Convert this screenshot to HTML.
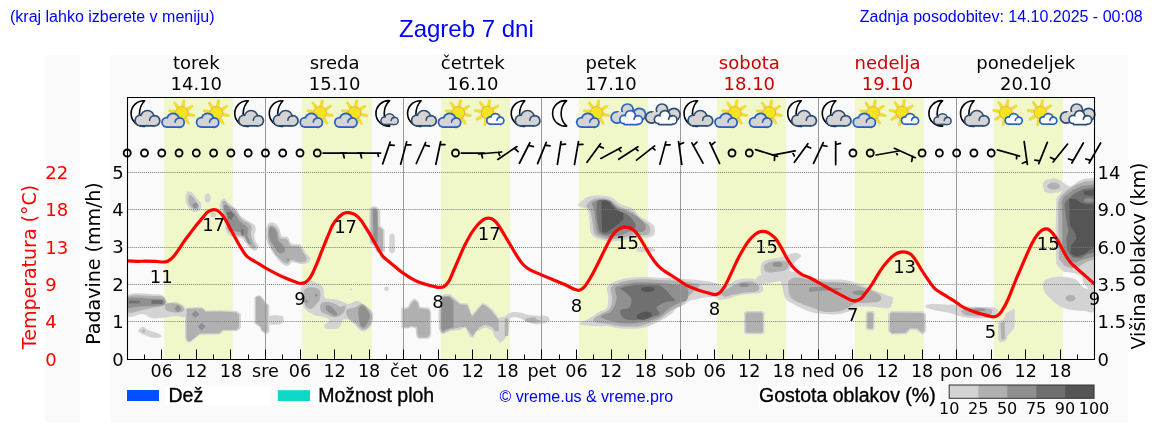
<!DOCTYPE html>
<html><head><meta charset="utf-8"><title>Zagreb 7 dni</title>
<style>
html,body{margin:0;padding:0;background:#fff;}
body{width:1152px;height:443px;overflow:hidden;}
svg{display:block;}
text{font-family:"DejaVu Sans",sans-serif;}
svg{-webkit-font-smoothing:antialiased;will-change:transform;}
.hd{font-family:"Liberation Sans",Arial,sans-serif;fill:#0000ff;}
.ls{font-family:"Liberation Sans",Arial,sans-serif;stroke:#000;stroke-width:0.35px;}
</style></head><body>
<svg width="1152" height="443" viewBox="0 0 1152 443">
<rect x="45" y="55" width="35" height="367.5" fill="#fafafa"/>
<rect x="110" y="55" width="1018" height="367.5" fill="#fafafa"/>
<rect x="127.5" y="97.5" width="967" height="262.0" fill="#fafafb"/>
<rect x="164.2" y="97.5" width="68.6" height="262.0" fill="#f0f7c9"/>
<rect x="302.2" y="97.5" width="69.6" height="262.0" fill="#f0f7c9"/>
<rect x="440.9" y="97.5" width="68.9" height="262.0" fill="#f0f7c9"/>
<rect x="578.9" y="97.5" width="68.9" height="262.0" fill="#f0f7c9"/>
<rect x="716.9" y="97.5" width="68.9" height="262.0" fill="#f0f7c9"/>
<rect x="854.9" y="97.5" width="68.9" height="262.0" fill="#f0f7c9"/>
<rect x="993.8" y="97.5" width="69.1" height="262.0" fill="#f0f7c9"/>
<defs><clipPath id="pc"><rect x="127.5" y="97.5" width="967" height="262.0"/></clipPath></defs>
<g clip-path="url(#pc)">
<ellipse cx="213.3" cy="214.8" rx="3.2" ry="2.6" fill="#d3d3d3"/>
<path d="M757.0,277.0 C758.7,275.2 764.8,274.5 770.0,273.5 C775.2,272.5 783.5,271.0 788.0,271.0 C792.5,271.0 796.7,272.2 797.0,273.5 C797.3,274.8 793.7,277.6 790.0,279.0 C786.3,280.4 780.0,281.2 775.0,282.0 C770.0,282.8 763.0,284.8 760.0,284.0 C757.0,283.2 755.3,278.8 757.0,277.0Z" fill="#d3d3d3"/>
<path d="M690.0,282.0 C692.5,279.1 700.7,281.3 705.0,281.5 C709.3,281.7 713.2,282.1 716.0,283.0 C718.8,283.9 722.0,284.8 722.0,287.0 C722.0,289.2 718.8,294.2 716.0,296.0 C713.2,297.8 709.3,297.0 705.0,297.5 C700.7,298.0 692.5,301.6 690.0,299.0 C687.5,296.4 687.5,284.9 690.0,282.0Z" fill="#d3d3d3"/>
<path d="M127.5,295.2 C132.1,291.5 149.0,294.2 154.8,294.2 C160.6,294.2 160.4,294.4 162.2,295.2 C164.0,296.0 164.6,298.0 165.6,299.2 C166.6,300.4 166.5,302.2 168.3,302.6 C170.1,303.1 174.1,301.6 176.4,301.9 C178.7,302.2 180.5,303.6 181.9,304.6 C183.3,305.6 184.5,306.0 185.0,308.0 C185.5,310.0 186.4,315.4 185.0,316.8 C183.6,318.2 179.6,316.0 176.4,316.1 C173.2,316.2 169.7,317.1 165.6,317.5 C161.5,317.9 155.9,318.8 152.1,318.2 C148.3,317.6 146.7,314.5 142.6,314.1 C138.5,313.8 130.0,319.2 127.5,316.1 C125.0,313.0 123.0,298.9 127.5,295.2Z" fill="#d3d3d3"/>
<path d="M127.5,296.5 C132.1,293.8 149.0,295.9 155.0,296.0 C161.0,296.1 161.8,296.2 163.5,297.0 C165.2,297.8 165.4,299.1 165.5,300.5 C165.6,301.9 166.6,304.1 164.3,305.3 C162.1,306.6 155.6,307.2 152.0,308.0 C148.4,308.8 146.7,309.3 142.6,310.0 C138.5,310.7 130.0,314.4 127.5,312.1 C125.0,309.9 122.9,299.2 127.5,296.5Z" fill="#b0b0b0"/>
<path d="M166.0,304.0 C167.7,302.9 173.3,303.1 176.0,303.5 C178.7,303.9 180.7,305.4 182.0,306.5 C183.3,307.6 184.3,309.0 184.0,310.0 C183.7,311.0 182.0,312.2 180.0,312.5 C178.0,312.8 174.3,312.4 172.0,312.0 C169.7,311.6 167.0,311.3 166.0,310.0 C165.0,308.7 164.3,305.1 166.0,304.0Z" fill="#b0b0b0"/>
<path d="M127.5,298.0 C131.2,296.5 144.1,298.2 150.0,298.5 C155.9,298.8 160.7,298.5 163.0,299.5 C165.3,300.5 165.8,303.4 164.0,304.5 C162.2,305.6 156.0,305.7 152.0,306.0 C148.0,306.3 144.1,306.2 140.0,306.5 C135.9,306.8 129.6,308.9 127.5,307.5 C125.4,306.1 123.8,299.5 127.5,298.0Z" fill="#909090"/>
<polygon points="129.0,300.6 140.0,300.8 140.0,303.3 129.0,303.5" fill="#707070"/>
<polygon points="151.4,300.0 162.5,300.2 162.9,304.0 151.4,304.0" fill="#707070"/>
<polygon points="177.8,304.5 181.5,308.7 177.8,312.5 174.5,308.7" fill="#909090"/>
<path d="M138.0,331.0 C138.2,329.8 141.3,327.0 143.0,326.8 C144.7,326.6 145.8,329.1 148.0,330.0 C150.2,330.9 153.8,331.6 156.0,332.5 C158.2,333.4 161.2,334.6 161.5,335.5 C161.8,336.4 159.9,337.8 158.0,338.0 C156.1,338.2 152.7,337.7 150.0,337.0 C147.3,336.3 144.0,335.0 142.0,334.0 C140.0,333.0 137.8,332.2 138.0,331.0Z" fill="#d3d3d3"/>
<ellipse cx="143.5" cy="331" rx="1.6" ry="1.6" fill="#b0b0b0"/>
<polygon points="185.0,308.7 187.5,307.4 202.4,307.2 206.1,310.5 221.0,310.2 237.1,311.1 240.9,314.3 240.9,327.9 237.1,331.0 223.5,331.0 219.8,334.5 199.9,334.8 189.9,342.8 186.2,341.6 185.0,337.2 185.0,319.8" fill="#d3d3d3"/>
<polygon points="186.8,308.7 202.4,308.4 205.5,311.8 221.0,311.4 236.5,312.4 239.0,314.9 239.0,327.3 236.5,329.8 222.9,330.0 219.1,333.3 199.9,333.5 189.9,341.6 187.2,340.3 186.5,337.2 186.5,313.6" fill="#b0b0b0"/>
<polygon points="195.5,310.5 199.5,314.3 195.5,318.0 191.5,314.3" fill="#909090"/>
<polygon points="201.7,322.7 205.7,326.7 201.7,330.5 197.7,326.7" fill="#909090"/>
<polygon points="254.5,296.9 259.5,295.0 262.6,297.5 265.7,302.5 269.4,304.9 269.4,316.1 275.0,315.0 283.0,316.0 284.0,321.0 280.0,324.8 269.4,324.8 269.4,332.3 265.7,334.5 261.4,331.0 259.5,327.3 254.5,323.6" fill="#d3d3d3"/>
<polygon points="255.8,296.9 260.1,296.2 262.0,298.7 265.1,303.1 267.6,305.6 267.6,331.0 265.7,332.9 262.0,330.4 260.7,326.7 255.8,323.0" fill="#b0b0b0"/>
<path d="M187.6,191.8 C188.7,191.1 190.3,191.5 191.9,192.6 C193.5,193.7 195.4,196.7 196.9,198.5 C198.4,200.3 200.6,201.8 201.2,203.6 C201.8,205.4 201.2,208.2 200.3,209.6 C199.5,211.0 197.7,212.0 196.1,212.1 C194.5,212.2 192.6,211.7 191.0,210.4 C189.4,209.1 187.7,206.8 186.8,204.5 C185.9,202.2 185.3,199.0 185.4,196.9 C185.5,194.8 186.5,192.5 187.6,191.8Z" fill="#d3d3d3"/>
<path d="M189.3,195.2 C190.0,194.4 191.3,195.5 192.7,196.9 C194.1,198.3 196.8,201.8 197.8,203.6 C198.8,205.4 199.0,206.9 198.6,207.9 C198.2,208.9 196.5,209.8 195.2,209.6 C193.9,209.4 192.1,208.3 191.0,207.0 C189.9,205.7 188.8,203.9 188.5,201.9 C188.2,199.9 188.6,196.0 189.3,195.2Z" fill="#b0b0b0"/>
<ellipse cx="195.2" cy="205.5" rx="2.5" ry="2.5" fill="#909090"/>
<ellipse cx="207.5" cy="198" rx="3" ry="4.6" fill="#d3d3d3"/>
<path d="M221.1,200.4 C221.9,199.2 223.5,198.2 224.5,198.4 C225.5,198.6 225.8,200.6 227.2,201.8 C228.5,203.0 231.0,204.5 232.6,205.8 C234.2,207.2 235.2,208.1 236.7,209.9 C238.2,211.7 239.4,214.8 241.4,216.7 C243.4,218.6 246.8,220.1 248.9,221.4 C251.1,222.8 253.2,223.6 254.3,224.8 C255.4,226.1 255.7,227.1 255.7,228.9 C255.7,230.7 254.3,233.7 254.3,235.7 C254.3,237.7 255.0,239.3 255.7,241.1 C256.4,242.9 258.4,244.9 258.4,246.5 C258.4,248.1 256.8,250.2 255.7,250.6 C254.6,251.0 253.2,250.3 251.6,249.2 C250.0,248.1 247.8,245.6 246.2,243.8 C244.6,242.0 243.9,239.5 242.1,238.4 C240.3,237.3 237.3,237.4 235.3,237.0 C233.3,236.6 231.5,236.8 229.9,235.7 C228.3,234.6 226.7,232.5 225.8,230.2 C224.9,227.9 225.3,225.0 224.5,222.1 C223.7,219.2 221.9,215.3 221.1,212.6 C220.3,209.9 219.7,207.8 219.7,205.8 C219.7,203.8 220.3,201.6 221.1,200.4Z" fill="#d3d3d3"/>
<path d="M222.5,202.5 C222.8,200.8 224.2,200.7 225.2,201.1 C226.2,201.5 227.1,203.9 228.6,205.2 C230.1,206.4 232.4,207.1 234.0,208.6 C235.6,210.1 236.7,212.2 238.0,214.0 C239.3,215.8 240.3,217.8 242.1,219.4 C243.9,221.0 247.3,222.2 248.9,223.5 C250.5,224.8 251.3,225.7 251.6,227.5 C251.9,229.3 250.7,232.0 250.9,234.3 C251.1,236.6 252.1,239.1 252.9,241.1 C253.7,243.1 255.7,245.3 255.7,246.5 C255.7,247.7 254.3,249.1 252.9,248.5 C251.5,247.9 249.1,245.0 247.5,243.1 C245.9,241.2 245.3,238.3 243.5,237.0 C241.7,235.7 238.7,235.7 236.7,235.0 C234.7,234.3 232.9,233.9 231.3,232.9 C229.7,231.9 228.1,230.9 227.2,228.9 C226.3,226.9 226.5,223.6 225.8,220.7 C225.1,217.8 223.7,214.3 223.1,211.3 C222.5,208.3 222.2,204.2 222.5,202.5Z" fill="#b0b0b0"/>
<path d="M223.8,205.8 C224.2,205.0 225.9,204.5 227.2,205.2 C228.4,205.9 230.0,208.4 231.3,209.9 C232.7,211.4 234.0,212.2 235.3,214.0 C236.7,215.8 237.6,218.7 239.4,220.7 C241.2,222.7 244.7,224.6 246.2,226.2 C247.7,227.8 248.0,228.6 248.2,230.2 C248.4,231.8 247.2,233.9 247.5,235.7 C247.8,237.5 249.6,239.6 250.2,241.1 C250.8,242.6 251.3,244.3 250.9,244.5 C250.5,244.7 248.7,244.1 247.5,242.4 C246.3,240.7 245.3,236.1 243.5,234.3 C241.7,232.5 239.0,232.4 236.7,231.6 C234.4,230.8 231.4,230.7 229.9,229.6 C228.4,228.5 228.5,227.2 227.9,224.8 C227.3,222.4 227.1,217.8 226.5,215.3 C225.9,212.8 224.9,211.5 224.5,209.9 C224.1,208.3 223.4,206.6 223.8,205.8Z" fill="#909090"/>
<polygon points="226.5,212.2 231.3,211.5 234.2,215.3 231.3,219.8 228.3,218.5" fill="#707070"/>
<polygon points="241.4,229.0 243.5,229.5 243.5,235.7 241.4,235.0" fill="#707070"/>
<path d="M267.0,225.6 C267.8,223.8 269.2,222.8 270.7,222.5 C272.1,222.2 274.2,222.7 275.7,223.7 C277.1,224.7 278.4,226.6 279.4,228.7 C280.4,230.8 280.4,234.6 281.9,236.1 C283.3,237.6 286.5,236.2 288.1,237.4 C289.8,238.7 289.7,242.4 291.8,243.6 C293.9,244.8 298.2,243.4 300.5,244.8 C302.8,246.2 303.9,250.0 305.5,252.3 C307.1,254.6 310.0,256.8 310.4,258.5 C310.8,260.2 309.4,261.9 308.0,262.8 C306.6,263.7 304.0,264.1 301.8,264.1 C299.6,264.1 296.6,263.1 294.9,262.8 C293.2,262.5 292.9,261.7 291.8,262.2 C290.7,262.7 289.5,265.5 288.1,265.9 C286.8,266.3 285.4,265.7 283.7,264.7 C282.0,263.7 280.0,261.8 278.1,259.7 C276.2,257.6 274.5,255.2 272.6,252.3 C270.8,249.4 268.1,245.4 267.0,242.3 C265.9,239.2 265.7,236.4 265.7,233.6 C265.7,230.8 266.2,227.4 267.0,225.6Z" fill="#d3d3d3"/>
<path d="M268.8,226.8 C269.4,225.4 270.3,224.9 271.3,224.9 C272.3,224.9 273.9,225.8 275.0,226.8 C276.1,227.8 277.3,229.2 278.1,231.1 C278.9,233.0 278.6,236.7 280.0,238.0 C281.4,239.3 285.0,238.0 286.8,239.2 C288.6,240.4 288.5,244.2 290.6,245.4 C292.7,246.7 297.1,245.4 299.3,246.7 C301.5,247.9 302.4,250.9 303.6,252.9 C304.8,254.9 306.5,257.1 306.7,258.5 C306.9,259.9 306.1,261.0 304.9,261.6 C303.7,262.2 301.2,262.4 299.3,262.2 C297.4,262.0 295.1,260.6 293.7,260.3 C292.2,260.0 291.5,259.8 290.6,260.3 C289.7,260.8 289.1,263.0 288.1,263.4 C287.1,263.8 285.8,263.6 284.4,262.8 C282.9,262.0 281.2,260.2 279.4,258.5 C277.6,256.8 275.6,255.0 273.8,252.3 C272.0,249.6 269.8,245.4 268.8,242.3 C267.8,239.2 267.6,236.2 267.6,233.6 C267.6,231.0 268.2,228.2 268.8,226.8Z" fill="#b0b0b0"/>
<path d="M269.5,228.0 C270.1,226.1 272.0,226.7 273.2,227.4 C274.4,228.1 276.1,230.3 276.9,232.4 C277.7,234.5 277.0,237.5 278.1,239.8 C279.2,242.1 282.6,244.2 283.7,246.1 C284.8,248.0 285.4,249.8 284.9,251.0 C284.4,252.2 281.9,253.5 280.6,253.5 C279.3,253.5 278.0,252.2 276.9,251.0 C275.8,249.8 275.0,248.2 273.8,246.1 C272.6,244.0 270.2,241.6 269.5,238.6 C268.8,235.6 268.9,229.9 269.5,228.0Z" fill="#909090"/>
<ellipse cx="288.1" cy="259.7" rx="1.2" ry="1.2" fill="#909090"/>
<polygon points="369.5,208.1 373.6,206.1 377.6,207.5 380.3,210.8 380.3,225.7 384.4,229.8 385.1,251.5 381.7,253.5 376.3,252.2 374.2,246.1 369.5,243.4 369.2,220.3" fill="#d3d3d3"/>
<polygon points="370.8,209.5 374.2,207.5 377.6,209.5 378.3,226.4 383.0,229.8 383.0,250.8 380.3,252.2 376.9,250.8 375.6,244.7 370.8,242.0 370.6,220.3" fill="#b0b0b0"/>
<polygon points="372.9,209.5 376.3,208.8 377.6,212.2 377.6,242.0 375.6,243.4 373.6,240.7 372.9,220.3" fill="#909090"/>
<polygon points="389.5,235.0 392.0,233.2 394.6,235.0 395.0,251.5 392.0,253.5 389.1,251.5" fill="#d3d3d3"/>
<path d="M301.5,287.2 C303.1,285.1 307.7,281.8 310.3,281.1 C312.9,280.4 315.0,282.0 317.1,283.1 C319.2,284.2 321.9,285.4 323.2,287.9 C324.5,290.4 323.0,296.1 325.2,298.0 C327.4,299.9 333.1,298.7 336.1,299.4 C339.2,300.1 341.5,301.3 343.5,302.1 C345.5,302.9 346.2,304.3 348.3,304.1 C350.4,303.9 354.4,301.0 356.4,300.7 C358.4,300.4 358.9,301.2 360.5,302.1 C362.1,303.0 364.1,304.9 365.9,306.2 C367.7,307.5 370.1,308.6 371.3,310.2 C372.5,311.8 373.3,313.2 373.3,315.7 C373.3,318.2 372.5,322.6 371.3,325.1 C370.1,327.6 367.7,329.7 365.9,330.6 C364.1,331.5 362.5,331.7 360.5,330.6 C358.5,329.5 355.7,325.6 353.7,323.8 C351.7,322.0 350.1,320.4 348.3,319.7 C346.5,319.0 343.9,319.0 342.8,319.7 C341.7,320.4 342.4,322.3 341.5,323.8 C340.6,325.3 340.0,327.7 337.4,328.5 C334.8,329.3 328.0,329.1 325.9,328.5 C323.8,327.9 324.0,326.6 324.6,325.1 C325.2,323.6 329.5,321.1 329.3,319.7 C329.1,318.3 325.4,317.7 323.2,317.0 C321.0,316.3 318.2,316.1 316.4,315.7 C314.6,315.2 314.3,315.4 312.4,314.3 C310.5,313.2 306.6,310.9 304.9,308.9 C303.2,306.9 302.9,304.6 302.2,302.1 C301.5,299.6 300.9,296.5 300.8,294.0 C300.7,291.5 299.9,289.3 301.5,287.2Z" fill="#d3d3d3"/>
<path d="M304.2,289.9 C305.3,288.8 308.0,287.4 310.3,287.2 C312.6,287.0 316.1,287.5 317.8,288.6 C319.5,289.7 320.3,292.0 320.5,294.0 C320.7,296.0 320.0,298.8 319.1,300.7 C318.2,302.6 316.5,304.1 315.1,305.5 C313.8,306.9 312.5,308.7 311.0,308.9 C309.5,309.1 307.5,308.2 306.3,306.8 C305.1,305.4 304.1,302.8 303.6,300.7 C303.2,298.6 303.5,295.8 303.6,294.0 C303.7,292.2 303.1,291.0 304.2,289.9Z" fill="#b0b0b0"/>
<path d="M320.5,304.8 C321.2,303.2 322.8,302.3 325.2,302.1 C327.6,301.9 332.2,302.7 334.7,303.5 C337.2,304.3 338.3,306.5 340.1,306.8 C341.9,307.1 344.9,304.7 345.6,305.5 C346.3,306.3 345.1,309.9 344.2,311.6 C343.3,313.3 341.9,314.8 340.1,315.7 C338.3,316.6 335.6,317.2 333.4,317.0 C331.1,316.8 328.6,315.2 326.6,314.3 C324.6,313.4 322.2,313.2 321.2,311.6 C320.2,310.0 319.8,306.4 320.5,304.8Z" fill="#b0b0b0"/>
<path d="M346.9,309.6 C348.2,308.2 352.5,308.4 355.0,307.5 C357.5,306.6 359.5,303.9 361.8,304.1 C364.1,304.3 366.9,307.0 368.6,308.9 C370.3,310.8 371.7,313.1 372.0,315.7 C372.3,318.3 371.7,322.2 370.6,324.5 C369.5,326.8 366.9,328.5 365.2,329.2 C363.5,329.9 362.0,329.4 360.5,328.5 C359.0,327.6 358.0,325.2 356.4,323.8 C354.8,322.4 352.6,321.8 351.0,320.4 C349.4,319.0 347.6,317.5 346.9,315.7 C346.2,313.9 345.5,311.0 346.9,309.6Z" fill="#b0b0b0"/>
<path d="M325.9,306.2 C326.3,305.4 327.8,304.8 329.3,305.5 C330.8,306.2 333.4,308.8 334.7,310.2 C336.0,311.6 337.2,312.7 337.4,313.6 C337.6,314.5 337.0,315.6 336.1,315.7 C335.2,315.8 333.6,315.2 332.0,314.3 C330.4,313.4 327.6,311.6 326.6,310.2 C325.6,308.8 325.4,307.0 325.9,306.2Z" fill="#909090"/>
<path d="M359.1,307.5 C359.9,306.3 361.7,304.9 363.2,305.5 C364.7,306.1 366.8,309.2 367.9,310.9 C369.0,312.6 369.9,313.8 369.9,315.7 C369.9,317.6 368.8,320.5 367.9,322.4 C367.0,324.3 365.6,326.5 364.5,327.2 C363.4,327.9 362.0,327.8 361.1,326.5 C360.2,325.2 359.6,322.0 359.1,319.7 C358.7,317.4 358.4,314.9 358.4,312.9 C358.4,310.9 358.3,308.7 359.1,307.5Z" fill="#909090"/>
<ellipse cx="316.4" cy="295.3" rx="1.2" ry="1.5" fill="#909090"/>
<ellipse cx="306.3" cy="301.4" rx="2" ry="1.2" fill="#909090"/>
<ellipse cx="386.5" cy="288.8" rx="2.3" ry="2.3" fill="#d3d3d3"/>
<ellipse cx="351" cy="289.5" rx="1" ry="1" fill="#d3d3d3"/>
<polygon points="401.0,308.3 407.5,307.0 410.9,300.9 414.2,298.2 418.3,300.9 420.3,307.0 429.1,307.6 431.2,311.7 431.2,336.1 428.5,338.8 418.3,338.8 416.3,336.1 415.6,328.6 411.5,327.3 408.2,328.6 401.4,328.6" fill="#d3d3d3"/>
<polygon points="403.4,309.7 408.8,308.3 412.2,302.2 414.9,300.2 417.6,302.9 419.0,308.3 428.5,309.4 429.8,312.4 429.8,334.7 427.1,337.4 419.0,337.4 417.6,334.7 417.0,327.3 411.5,326.0 408.2,327.3 403.4,327.3" fill="#b0b0b0"/>
<polygon points="438.6,309.7 441.3,296.1 444.7,294.1 450.1,294.1 454.9,298.2 460.3,302.9 468.1,303.6 471.5,315.1 482.4,302.9 486.0,304.0 494.0,311.0 498.6,318.0 504.7,316.5 509.0,313.0 514.0,312.0 521.0,312.4 528.0,315.0 536.0,315.5 544.0,316.5 549.4,318.5 549.4,321.0 544.0,323.5 536.0,324.5 528.0,322.5 521.0,318.5 514.2,317.1 510.0,318.0 508.8,331.4 504.7,339.5 500.0,342.9 495.0,337.0 492.0,330.0 485.7,327.3 476.3,331.4 473.6,338.1 469.5,336.8 465.4,327.3 460.0,330.0 449.4,331.3 444.0,334.0 441.3,334.0 438.6,328.6" fill="#d3d3d3"/>
<polygon points="440.5,310.0 442.8,297.5 445.5,296.0 449.6,296.0 454.0,299.6 459.6,304.3 467.0,305.0 472.2,316.5 482.4,304.3 488.0,307.5 494.0,314.0 498.6,319.8 498.6,331.4 495.0,331.0 492.5,327.3 485.0,324.5 480.0,327.0 474.9,332.7 472.2,336.1 468.0,330.0 466.0,327.0 460.0,327.3 449.4,329.8 444.0,332.5 441.5,332.5 440.3,328.5" fill="#b0b0b0"/>
<polygon points="442.0,296.8 449.4,296.8 453.5,301.5 453.5,327.3 448.1,328.6 442.7,331.3 441.3,328.6 441.3,301.5" fill="#909090"/>
<polygon points="504.7,318.5 508.1,318.5 508.1,336.1 504.7,336.1" fill="#b0b0b0"/>
<ellipse cx="534" cy="320" rx="9" ry="2.6" fill="#b0b0b0"/>
<path d="M578.1,204.6 C579.1,202.9 584.3,198.4 587.4,196.9 C590.5,195.4 593.5,195.5 596.6,195.4 C599.7,195.3 603.0,195.6 605.8,196.1 C608.6,196.6 611.2,197.1 613.5,198.4 C615.8,199.7 617.6,202.5 619.6,203.8 C621.6,205.1 623.5,205.2 625.8,206.1 C628.1,207.0 631.1,207.5 633.4,209.2 C635.7,210.9 637.3,214.2 639.6,216.1 C641.9,218.0 645.0,219.2 647.3,220.7 C649.6,222.2 652.1,223.5 653.4,225.3 C654.7,227.1 655.0,229.7 654.9,231.5 C654.8,233.3 654.1,235.1 652.6,236.1 C651.1,237.1 648.4,237.6 645.7,237.6 C643.0,237.6 638.5,236.1 636.5,236.1 C634.5,236.1 635.7,236.8 633.4,237.6 C631.1,238.4 626.5,240.0 622.7,240.7 C618.9,241.3 613.7,241.6 610.4,241.5 C607.1,241.4 605.3,240.6 602.7,239.9 C600.1,239.2 597.0,239.0 595.0,237.6 C593.0,236.2 591.3,234.1 590.4,231.5 C589.5,228.9 590.2,225.9 589.7,222.3 C589.2,218.7 588.8,212.6 587.4,210.0 C586.0,207.4 582.8,207.8 581.2,206.9 C579.7,206.0 577.1,206.3 578.1,204.6Z" fill="#d3d3d3"/>
<path d="M586.6,204.6 C587.6,203.2 590.5,200.2 593.5,199.2 C596.5,198.2 601.2,198.1 604.3,198.4 C607.4,198.7 609.6,199.5 611.9,200.8 C614.2,202.1 616.0,204.8 618.1,206.1 C620.2,207.4 621.7,207.4 624.2,208.4 C626.8,209.4 630.8,210.6 633.4,212.3 C636.0,214.0 637.3,216.5 639.6,218.4 C641.9,220.3 645.5,222.0 647.3,223.8 C649.1,225.6 650.2,227.4 650.3,229.2 C650.4,231.0 649.8,233.5 648.0,234.5 C646.2,235.5 642.0,235.3 639.6,235.3 C637.2,235.3 636.0,234.1 633.4,234.5 C630.8,234.9 628.0,236.8 624.2,237.6 C620.4,238.4 614.5,239.3 610.4,239.2 C606.3,239.1 602.3,237.9 599.6,236.9 C596.9,235.9 595.4,235.2 594.3,233.0 C593.1,230.8 593.4,227.4 592.7,223.8 C592.1,220.2 591.3,214.2 590.4,211.5 C589.5,208.8 588.0,208.8 587.4,207.7 C586.8,206.5 585.6,206.0 586.6,204.6Z" fill="#b0b0b0"/>
<path d="M592.0,203.1 C592.8,201.7 595.6,200.5 598.1,200.0 C600.6,199.5 604.2,198.8 607.3,200.0 C610.4,201.2 613.4,205.1 616.5,206.9 C619.6,208.7 622.5,209.2 625.8,210.7 C629.1,212.2 633.4,214.0 636.5,216.1 C639.6,218.2 642.7,220.9 644.2,223.0 C645.7,225.1 646.2,226.9 645.7,228.4 C645.2,229.9 643.7,231.7 641.1,232.2 C638.5,232.7 633.5,231.1 630.4,231.5 C627.3,231.9 626.0,233.6 622.7,234.5 C619.4,235.4 614.1,236.9 610.4,236.9 C606.7,236.9 602.7,235.7 600.4,234.5 C598.1,233.3 597.5,232.7 596.6,229.9 C595.7,227.1 595.5,221.2 595.0,217.6 C594.5,214.0 594.0,210.8 593.5,208.4 C593.0,206.0 591.2,204.5 592.0,203.1Z" fill="#909090"/>
<path d="M597.3,201.5 C598.3,199.3 600.5,200.0 602.7,200.0 C604.9,200.0 607.8,199.8 610.4,201.5 C613.0,203.2 615.3,207.8 618.1,210.0 C620.9,212.2 624.8,212.8 627.3,214.6 C629.8,216.4 632.0,218.6 633.4,220.7 C634.8,222.8 636.5,225.6 635.7,226.9 C634.9,228.2 631.5,227.9 628.8,228.4 C626.1,228.9 623.2,228.9 619.6,229.9 C616.0,230.9 610.5,234.1 607.3,234.5 C604.1,234.9 601.9,233.7 600.4,232.2 C598.9,230.7 598.7,228.5 598.1,225.3 C597.5,222.1 596.7,217.0 596.6,213.0 C596.5,209.0 596.3,203.7 597.3,201.5Z" fill="#707070"/>
<polygon points="601.5,201.0 606.0,200.4 609.6,202.0 612.0,206.0 617.0,210.5 623.5,213.0 623.5,219.0 619.0,223.5 612.0,228.5 606.0,232.8 602.0,232.0 601.5,213.0" fill="#555555"/>
<path d="M636.5,248.5 C637.7,247.8 642.2,247.2 645.0,247.2 C647.8,247.2 651.3,247.9 653.0,248.5 C654.7,249.1 656.2,250.4 655.0,251.0 C653.8,251.6 648.8,252.2 646.0,252.3 C643.2,252.4 639.6,252.1 638.0,251.5 C636.4,250.9 635.3,249.2 636.5,248.5Z" fill="#d3d3d3"/>
<path d="M579.5,323.2 C580.5,322.0 586.8,319.8 590.1,317.9 C593.4,316.0 596.4,313.5 599.2,311.9 C602.0,310.3 605.3,310.6 606.8,308.1 C608.3,305.6 608.3,300.1 608.3,296.7 C608.3,293.3 606.0,290.1 606.8,287.7 C607.5,285.3 609.8,283.9 612.8,282.4 C615.8,280.9 620.3,279.5 624.9,278.6 C629.5,277.7 634.3,277.2 640.1,277.1 C645.9,277.0 653.4,277.6 659.7,277.8 C666.0,278.1 671.7,278.2 677.9,278.6 C684.1,279.0 691.4,279.4 697.0,280.0 C702.6,280.6 708.3,281.3 711.7,282.2 C715.1,283.1 716.6,284.0 717.6,285.1 C718.6,286.2 720.2,287.5 718.0,289.0 C715.8,290.5 708.6,292.2 704.4,293.9 C700.2,295.6 696.0,297.2 692.6,299.0 C689.2,300.8 686.4,303.5 683.8,304.9 C681.2,306.3 679.0,306.1 677.0,307.5 C675.0,308.9 674.2,311.4 671.8,313.4 C669.4,315.4 666.2,317.4 662.7,319.4 C659.2,321.4 654.6,324.0 650.6,325.5 C646.6,327.0 643.5,328.0 638.5,328.5 C633.5,329.0 625.4,328.9 620.4,328.5 C615.4,328.1 611.8,326.6 608.3,326.2 C604.8,325.8 603.2,326.4 599.2,326.2 C595.2,326.0 587.4,325.7 584.1,325.2 C580.8,324.7 578.5,324.4 579.5,323.2Z" fill="#d3d3d3"/>
<path d="M593.2,319.4 C594.0,318.0 597.9,315.9 600.7,314.1 C603.5,312.3 607.9,311.4 609.8,308.8 C611.7,306.2 612.0,301.7 612.1,298.3 C612.2,294.9 610.1,290.7 610.6,288.4 C611.1,286.1 612.7,285.9 615.1,284.6 C617.5,283.4 620.7,281.8 624.9,280.9 C629.1,280.0 634.3,279.4 640.1,279.3 C645.9,279.2 653.4,279.8 659.7,280.1 C666.0,280.4 672.9,280.5 677.9,280.9 C682.9,281.3 686.3,281.8 690.0,282.4 C693.7,283.0 699.2,283.2 700.0,284.5 C700.8,285.8 697.0,287.9 695.0,290.0 C693.0,292.1 690.2,294.7 688.0,297.0 C685.8,299.3 683.2,302.5 682.0,304.0 C680.8,305.5 682.9,304.6 680.9,305.8 C678.9,307.0 673.6,309.1 670.3,311.1 C667.0,313.1 664.7,315.9 661.2,317.9 C657.7,319.9 652.9,321.8 649.1,323.2 C645.3,324.6 643.3,325.7 638.5,326.2 C633.7,326.7 625.4,326.6 620.4,326.2 C615.4,325.8 612.3,324.6 608.3,324.0 C604.3,323.4 598.7,323.3 596.2,322.5 C593.7,321.7 592.5,320.8 593.2,319.4Z" fill="#b0b0b0"/>
<path d="M600.7,316.4 C601.2,314.9 608.6,314.0 611.3,311.1 C613.9,308.2 616.0,302.8 616.6,299.0 C617.2,295.2 614.4,290.7 615.1,288.4 C615.9,286.1 617.7,286.4 621.1,285.4 C624.5,284.4 629.3,282.8 635.5,282.4 C641.7,282.0 651.9,282.7 658.2,283.1 C664.5,283.5 668.5,283.8 673.3,284.6 C678.1,285.4 684.7,285.2 687.0,287.7 C689.3,290.2 688.3,297.3 687.0,299.8 C685.7,302.3 682.4,301.3 679.4,302.8 C676.4,304.3 672.1,306.5 668.8,308.8 C665.5,311.1 663.2,314.4 659.7,316.4 C656.2,318.4 651.6,319.9 647.6,321.0 C643.6,322.1 640.0,322.8 635.5,323.2 C631.0,323.6 624.9,323.7 620.4,323.2 C615.9,322.7 611.6,321.3 608.3,320.2 C605.0,319.1 600.2,317.9 600.7,316.4Z" fill="#909090"/>
<path d="M620.4,310.4 C621.4,308.6 627.7,309.3 629.5,307.3 C631.3,305.3 632.0,301.1 631.0,298.3 C630.0,295.5 625.2,292.4 623.4,290.7 C621.6,289.0 618.9,289.3 620.4,288.4 C621.9,287.5 628.0,286.0 632.5,285.4 C637.0,284.8 642.8,284.5 647.6,284.6 C652.4,284.7 657.2,284.2 661.2,286.2 C665.2,288.2 669.5,294.3 671.8,296.7 C674.1,299.1 675.8,299.6 674.8,300.5 C673.8,301.4 668.8,300.9 665.8,302.0 C662.8,303.1 657.7,305.4 656.7,307.3 C655.7,309.2 660.2,311.9 659.7,313.4 C659.2,314.9 656.5,315.5 653.7,316.4 C650.9,317.3 646.6,318.1 643.1,318.7 C639.6,319.3 635.8,320.3 632.5,320.2 C629.2,320.1 625.4,319.5 623.4,317.9 C621.4,316.3 619.4,312.2 620.4,310.4Z" fill="#707070"/>
<ellipse cx="647.8" cy="289.3" rx="6.8" ry="2.6" fill="#555555"/>
<ellipse cx="644.3" cy="315.7" rx="8" ry="3.8" fill="#555555" transform="rotate(-10 644.3 315.7)"/>
<ellipse cx="542.5" cy="318.2" rx="6.5" ry="2.6" fill="#d3d3d3"/>
<path d="M714.6,294.6 C714.8,293.1 717.0,291.7 719.0,290.2 C721.0,288.7 723.4,287.5 726.4,285.8 C729.4,284.1 733.0,281.2 736.7,280.0 C740.4,278.8 745.0,278.5 748.4,278.5 C751.8,278.5 755.0,279.0 757.2,280.0 C759.4,281.0 760.6,282.7 761.6,284.4 C762.6,286.1 763.6,288.7 763.1,290.2 C762.6,291.7 761.2,292.6 758.7,293.2 C756.2,293.8 751.8,293.5 748.4,293.9 C745.0,294.3 741.8,294.5 738.1,295.4 C734.4,296.3 729.8,298.5 726.4,299.1 C723.0,299.7 719.6,299.9 717.6,299.1 C715.6,298.4 714.4,296.1 714.6,294.6Z" fill="#d3d3d3"/>
<path d="M722.0,293.2 C722.5,291.9 725.2,290.5 727.9,288.8 C730.6,287.1 734.7,284.1 738.1,282.9 C741.5,281.7 745.5,281.4 748.4,281.4 C751.3,281.4 754.0,281.8 755.8,282.9 C757.6,284.0 759.4,286.5 759.4,288.0 C759.4,289.5 758.1,291.0 755.8,291.7 C753.5,292.4 749.2,291.9 745.5,292.4 C741.8,292.9 737.1,293.9 733.7,294.6 C730.3,295.3 726.9,297.0 724.9,296.8 C722.9,296.6 721.5,294.5 722.0,293.2Z" fill="#b0b0b0"/>
<ellipse cx="744" cy="285.1" rx="5" ry="2" fill="#909090"/>
<path d="M761.3,264.2 C762.1,261.8 763.2,261.4 766.4,260.2 C769.6,259.0 776.0,258.3 780.7,257.1 C785.5,255.9 791.5,253.2 794.9,253.0 C798.3,252.8 801.0,254.6 801.0,256.1 C801.0,257.6 796.6,260.2 794.9,262.2 C793.2,264.2 792.2,266.3 790.8,268.3 C789.4,270.3 788.7,273.0 786.7,274.4 C784.7,275.8 782.0,275.7 778.6,276.4 C775.2,277.1 769.3,278.8 766.4,278.5 C763.5,278.2 762.1,276.8 761.3,274.4 C760.4,272.0 760.4,266.6 761.3,264.2Z" fill="#d3d3d3"/>
<path d="M764.4,265.2 C765.6,263.5 769.1,261.9 772.5,261.2 C775.9,260.5 782.0,260.5 784.7,261.2 C787.4,261.9 788.8,263.7 788.8,265.2 C788.8,266.7 787.4,269.1 784.7,270.3 C782.0,271.5 775.7,272.2 772.5,272.4 C769.3,272.6 766.8,272.5 765.4,271.3 C764.0,270.1 763.2,266.9 764.4,265.2Z" fill="#b0b0b0"/>
<ellipse cx="777.6" cy="264.6" rx="5" ry="2.5" fill="#909090"/>
<polygon points="744.1,312.5 745.6,311.0 762.9,311.0 764.4,312.5 764.4,332.8 762.9,334.3 745.6,334.3 744.1,332.8" fill="#d3d3d3"/>
<polygon points="745.6,314.0 747.0,312.5 761.5,312.5 762.9,314.0 762.9,331.3 761.5,332.8 747.0,332.8 745.6,331.3" fill="#b0b0b0"/>
<path d="M780.7,277.4 C781.4,275.0 783.7,275.2 786.7,274.4 C789.7,273.6 794.8,272.0 798.9,272.4 C803.0,272.8 806.8,275.8 811.1,277.0 C815.4,278.2 820.0,279.1 824.7,279.5 C829.4,279.9 834.8,279.1 839.4,279.5 C844.0,279.9 848.2,280.6 852.6,281.7 C857.0,282.8 862.1,284.7 865.8,286.2 C869.5,287.7 871.2,289.1 874.6,290.6 C878.0,292.1 883.3,293.8 886.4,295.0 C889.5,296.2 892.3,295.9 893.0,297.9 C893.7,299.8 891.9,305.0 890.8,306.7 C889.7,308.4 889.6,308.2 886.4,308.2 C883.2,308.2 876.4,306.9 871.7,306.7 C867.1,306.4 861.4,306.2 858.5,306.7 C855.6,307.2 857.3,308.4 854.1,309.6 C850.9,310.8 844.3,313.4 839.4,314.1 C834.5,314.9 829.4,314.5 824.7,314.1 C820.0,313.8 816.1,313.5 811.1,312.0 C806.1,310.5 799.1,307.1 794.9,304.9 C790.7,302.7 787.7,301.5 785.7,298.8 C783.7,296.1 783.5,292.2 782.7,288.6 C781.9,285.0 780.0,279.8 780.7,277.4Z" fill="#d3d3d3"/>
<path d="M788.8,280.5 C790.2,278.8 793.2,277.5 796.9,277.4 C800.6,277.3 806.5,279.3 811.1,280.0 C815.7,280.7 819.5,281.3 824.7,281.7 C829.9,282.1 836.9,281.9 842.3,282.5 C847.7,283.1 852.1,284.0 857.0,285.4 C861.9,286.8 867.8,288.9 871.7,290.6 C875.6,292.3 879.3,293.9 880.5,295.7 C881.7,297.5 881.5,300.4 879.0,301.6 C876.5,302.8 869.7,302.6 865.8,303.0 C861.9,303.4 859.4,302.6 855.5,303.8 C851.6,305.0 847.4,309.0 842.3,310.4 C837.2,311.8 829.6,312.3 824.7,311.9 C819.9,311.5 817.8,309.7 813.2,308.0 C808.6,306.3 800.8,303.9 796.9,301.8 C793.0,299.8 791.2,298.1 789.8,295.7 C788.4,293.3 788.6,290.1 788.4,287.6 C788.2,285.1 787.4,282.2 788.8,280.5Z" fill="#b0b0b0"/>
<path d="M810.0,287.6 C811.5,286.8 815.1,286.9 818.8,286.9 C822.5,286.9 828.1,287.2 832.0,287.6 C835.9,288.0 842.3,288.6 842.3,289.1 C842.3,289.6 835.9,290.4 832.0,290.6 C828.1,290.9 822.5,290.4 818.8,290.6 C815.1,290.8 811.5,292.5 810.0,292.0 C808.5,291.5 808.5,288.5 810.0,287.6Z" fill="#909090"/>
<ellipse cx="817" cy="289.3" rx="7" ry="2" fill="#909090"/>
<ellipse cx="859.2" cy="292.8" rx="6.6" ry="2.5" fill="#909090"/>
<polygon points="865.8,313.0 867.5,311.1 873.0,311.1 874.6,313.0 874.6,328.5 873.0,330.2 867.5,330.2 865.8,328.5" fill="#d3d3d3"/>
<polygon points="867.3,314.0 868.5,312.6 872.0,312.6 873.1,314.0 873.1,327.3 872.0,328.7 868.5,328.7 867.3,327.3" fill="#b0b0b0"/>
<polygon points="888.1,313.6 891.2,311.1 922.8,311.3 925.9,314.2 925.9,331.6 922.8,334.7 919.7,332.8 916.0,329.7 910.4,329.7 906.7,334.0 891.8,334.7 888.1,330.9" fill="#d3d3d3"/>
<polygon points="889.9,314.2 891.8,312.6 922.2,313.0 924.3,314.8 924.3,330.3 922.2,332.8 917.2,328.5 909.8,328.2 905.4,332.8 891.8,333.2 889.9,330.9" fill="#b0b0b0"/>
<path d="M925.3,306.1 C925.7,305.5 926.8,304.6 929.6,304.3 C932.4,304.0 937.9,304.1 942.0,304.3 C946.1,304.5 950.6,304.8 954.4,305.5 C958.2,306.2 963.2,306.7 965.0,308.6 C966.8,310.5 965.9,315.4 965.0,316.7 C964.1,317.9 962.0,316.7 959.4,316.1 C956.8,315.5 953.4,313.9 949.5,313.0 C945.6,312.1 939.5,311.3 935.8,310.5 C932.1,309.7 928.9,308.7 927.1,308.0 C925.4,307.3 924.9,306.7 925.3,306.1Z" fill="#d3d3d3"/>
<path d="M950.0,304.4 C952.0,303.6 953.2,305.2 957.1,305.6 C961.0,306.0 967.8,306.5 973.5,306.8 C979.2,307.1 987.2,306.9 991.1,307.3 C995.0,307.7 995.9,308.0 997.0,309.1 C998.1,310.2 998.0,312.6 997.6,313.8 C997.2,315.0 996.8,315.5 994.7,316.2 C992.7,316.9 989.2,317.6 985.3,317.9 C981.4,318.2 975.1,318.2 971.2,317.9 C967.3,317.6 964.1,316.8 961.8,316.2 C959.4,315.6 959.1,315.0 957.1,314.4 C955.1,313.8 952.0,313.2 950.0,312.6 C948.0,312.0 945.0,311.9 945.0,310.5 C945.0,309.1 948.0,305.2 950.0,304.4Z" fill="#d3d3d3"/>
<path d="M961.8,310.3 C963.6,309.4 968.8,308.1 973.5,307.9 C978.2,307.7 986.9,308.5 990.0,309.1 C993.1,309.7 992.3,310.5 992.3,311.5 C992.3,312.5 992.1,314.2 990.0,315.0 C987.9,315.8 983.1,316.1 979.4,316.2 C975.7,316.3 970.4,316.1 967.6,315.6 C964.9,315.1 963.9,314.1 962.9,313.2 C961.9,312.3 960.0,311.2 961.8,310.3Z" fill="#b0b0b0"/>
<ellipse cx="979.4" cy="309.8" rx="6" ry="1.5" fill="#909090"/>
<polygon points="998.2,322.0 1004.0,319.1 1005.2,313.8 1013.5,309.1 1014.9,310.3 1014.6,327.9 1007.6,335.5 1006.4,339.7 1001.7,342.6 998.2,340.2" fill="#d3d3d3"/>
<polygon points="1000.5,323.2 1004.6,321.4 1005.2,338.5 1002.3,339.7 1001.1,337.3" fill="#b0b0b0"/>
<polygon points="1042.7,182.9 1045.4,180.2 1053.6,178.1 1060.3,180.2 1064.4,183.6 1069.8,186.5 1073.2,184.9 1079.3,180.8 1084.7,178.8 1094.7,177.8 1094.7,290.0 1089.0,289.0 1083.0,283.0 1082.0,276.0 1073.9,273.1 1063.7,271.7 1060.3,268.4 1056.3,264.3 1055.6,230.0 1056.3,198.5 1060.3,193.7 1063.0,190.5 1058.0,192.5 1050.0,193.6 1044.0,191.5" fill="#d3d3d3"/>
<ellipse cx="1053.6" cy="186.1" rx="6.5" ry="3.5" fill="#b0b0b0"/>
<path d="M1043.1,285.7 C1043.1,283.3 1043.8,281.1 1045.8,279.6 C1047.8,278.1 1051.5,277.2 1055.3,276.9 C1059.1,276.6 1065.2,277.0 1068.8,277.6 C1072.4,278.2 1074.7,278.7 1077.0,280.3 C1079.3,281.9 1080.4,285.6 1082.4,287.1 C1084.4,288.6 1087.0,288.8 1089.1,289.1 C1091.1,289.4 1093.8,285.5 1094.7,289.1 C1095.6,292.7 1096.8,307.1 1094.7,310.7 C1092.7,314.3 1086.7,310.9 1082.4,310.7 C1078.1,310.5 1072.6,310.2 1068.8,309.4 C1065.0,308.6 1062.3,307.7 1059.4,306.0 C1056.5,304.3 1053.5,301.2 1051.2,299.2 C1048.9,297.2 1047.2,296.1 1045.8,293.8 C1044.4,291.6 1043.1,288.1 1043.1,285.7Z" fill="#d3d3d3"/>
<ellipse cx="1070.4" cy="298.2" rx="5" ry="3.2" fill="#b0b0b0"/>
<polygon points="1067.0,190.3 1075.2,184.9 1084.7,181.5 1094.7,180.8 1094.7,259.6 1087.4,261.6 1079.3,266.3 1071.2,268.4 1064.4,265.7 1059.0,258.9 1058.3,225.0 1058.3,202.5 1060.3,197.1" fill="#b0b0b0"/>
<polygon points="1063.7,197.1 1072.5,190.3 1080.6,186.3 1094.7,184.2 1094.7,256.8 1084.7,258.9 1075.2,262.3 1067.1,260.2 1062.4,252.1 1062.4,225.0 1061.7,201.2" fill="#909090"/>
<polygon points="1065.7,201.2 1073.9,193.7 1083.4,189.0 1094.7,187.6 1094.7,252.1 1087.4,254.1 1080.6,258.2 1072.5,257.5 1067.1,250.7 1066.4,238.6 1068.5,230.4 1067.1,225.0 1064.4,205.2" fill="#707070"/>
<polygon points="1069.1,199.1 1075.2,199.1 1080.6,202.5 1086.1,204.6 1094.7,203.9 1094.7,247.4 1090.1,249.4 1084.7,254.1 1076.6,256.8 1070.5,253.5 1071.2,245.3 1076.6,238.6 1075.2,233.1 1069.8,225.0" fill="#555555"/>
<path d="M1084.7,191.0 C1086.3,190.2 1093.0,189.8 1094.7,190.5 C1096.4,191.2 1096.3,194.8 1094.7,195.5 C1093.1,196.2 1086.7,195.8 1085.0,195.0 C1083.3,194.2 1083.1,191.8 1084.7,191.0Z" fill="#555555"/>
<ellipse cx="1089" cy="200.2" rx="5" ry="2.2" fill="#909090"/>
</g>
<line x1="127.5" y1="321.5" x2="1094.5" y2="321.5" stroke="#777" stroke-width="1" stroke-dasharray="1 1.05"/>
<line x1="127.5" y1="284.5" x2="1094.5" y2="284.5" stroke="#777" stroke-width="1" stroke-dasharray="1 1.05"/>
<line x1="127.5" y1="247.5" x2="1094.5" y2="247.5" stroke="#777" stroke-width="1" stroke-dasharray="1 1.05"/>
<line x1="127.5" y1="209.5" x2="1094.5" y2="209.5" stroke="#777" stroke-width="1" stroke-dasharray="1 1.05"/>
<line x1="127.5" y1="172.5" x2="1094.5" y2="172.5" stroke="#777" stroke-width="1" stroke-dasharray="1 1.05"/>
<line x1="265.5" y1="97.5" x2="265.5" y2="359.5" stroke="#999" stroke-width="1"/>
<line x1="403.5" y1="97.5" x2="403.5" y2="359.5" stroke="#999" stroke-width="1"/>
<line x1="541.5" y1="97.5" x2="541.5" y2="359.5" stroke="#999" stroke-width="1"/>
<line x1="680.5" y1="97.5" x2="680.5" y2="359.5" stroke="#999" stroke-width="1"/>
<line x1="818.5" y1="97.5" x2="818.5" y2="359.5" stroke="#999" stroke-width="1"/>
<line x1="956.5" y1="97.5" x2="956.5" y2="359.5" stroke="#999" stroke-width="1"/>
<path d="M127.4,260.8 C129.0,260.9 134.2,261.2 137.2,261.3 C140.2,261.4 142.2,261.2 145.3,261.2 C148.4,261.2 152.6,261.3 155.5,261.4 C158.4,261.5 160.6,262.0 162.6,262.0 C164.6,262.0 166.0,262.0 167.7,261.2 C169.4,260.4 171.1,259.0 172.8,257.3 C174.5,255.6 176.0,253.4 177.8,250.8 C179.7,248.2 181.9,244.6 183.9,241.7 C185.9,238.8 188.0,236.2 190.0,233.5 C192.0,230.8 194.1,227.9 196.1,225.4 C198.1,222.9 200.3,220.5 202.2,218.3 C204.1,216.1 205.6,213.6 207.3,212.2 C209.0,210.8 210.7,210.1 212.4,209.8 C214.1,209.5 216.0,209.9 217.5,210.6 C219.0,211.3 220.2,212.8 221.5,214.2 C222.8,215.6 223.6,216.6 225.2,219.3 C226.8,222.0 229.3,226.8 231.3,230.5 C233.3,234.2 235.4,238.1 237.4,241.7 C239.4,245.2 241.8,249.3 243.5,251.8 C245.2,254.3 245.5,255.2 247.5,256.9 C249.5,258.6 252.6,260.1 255.7,262.0 C258.8,263.9 262.4,266.2 265.8,268.1 C269.2,270.0 272.6,271.9 276.0,273.6 C279.4,275.3 282.7,276.9 286.1,278.3 C289.5,279.8 293.9,281.5 296.3,282.3 C298.7,283.1 298.9,283.3 300.4,283.3 C301.9,283.3 303.7,283.3 305.4,282.3 C307.1,281.3 308.7,280.1 310.5,277.2 C312.3,274.3 314.7,268.7 316.3,265.0 C317.9,261.3 319.0,258.3 320.3,254.9 C321.6,251.5 323.0,248.1 324.4,244.7 C325.8,241.3 327.1,237.8 328.5,234.6 C329.9,231.4 331.0,228.1 332.5,225.4 C334.0,222.7 335.9,220.2 337.6,218.3 C339.3,216.4 341.2,214.8 342.7,213.8 C344.2,212.9 345.2,212.7 346.7,212.6 C348.2,212.5 350.1,212.6 351.8,213.2 C353.5,213.8 355.4,214.7 356.9,215.9 C358.4,217.1 359.6,218.6 361.0,220.3 C362.4,222.1 363.5,224.0 365.0,226.4 C366.5,228.8 368.4,231.7 370.1,234.6 C371.8,237.5 373.7,241.0 375.2,243.7 C376.7,246.4 377.9,248.6 379.3,250.8 C380.7,253.0 381.6,255.0 383.3,256.9 C385.0,258.8 387.4,260.3 389.4,262.0 C391.4,263.7 393.2,265.2 395.5,267.1 C397.8,269.0 399.8,270.9 403.1,273.1 C406.4,275.4 411.6,278.7 415.3,280.6 C419.0,282.5 421.8,283.2 425.5,284.3 C429.2,285.4 434.6,286.9 437.7,287.3 C440.8,287.7 441.9,287.7 443.8,286.7 C445.7,285.7 447.2,284.0 448.9,281.2 C450.6,278.4 452.0,274.2 453.9,270.0 C455.8,265.8 458.1,260.0 460.0,255.8 C461.9,251.6 463.2,248.3 465.1,244.6 C467.0,240.9 469.2,236.7 471.2,233.5 C473.2,230.3 475.3,227.6 477.3,225.3 C479.3,223.0 481.5,220.8 483.4,219.6 C485.3,218.4 487.1,218.1 488.9,218.2 C490.7,218.3 492.4,218.8 494.1,220.2 C495.8,221.5 497.3,223.6 499.2,226.3 C501.1,229.0 503.3,233.1 505.3,236.5 C507.3,239.9 509.4,243.3 511.4,246.7 C513.4,250.1 515.5,253.8 517.5,256.8 C519.5,259.9 521.6,262.9 523.6,265.0 C525.6,267.1 526.7,267.9 529.7,269.6 C532.8,271.3 537.8,273.3 541.9,275.1 C546.0,276.9 550.0,278.5 554.1,280.2 C558.2,281.9 562.9,283.8 566.3,285.3 C569.7,286.8 572.2,288.5 574.4,289.3 C576.6,290.1 577.9,290.6 579.5,290.2 C581.1,289.8 582.5,288.9 584.1,287.2 C585.7,285.5 587.2,283.1 589.1,280.0 C591.0,276.9 593.2,272.8 595.2,268.9 C597.2,265.0 599.3,260.8 601.3,256.7 C603.3,252.6 605.5,248.1 607.4,244.5 C609.3,240.9 610.6,237.9 612.5,235.3 C614.4,232.8 616.7,230.5 618.6,229.2 C620.5,227.8 622.0,227.5 623.7,227.2 C625.4,226.9 627.1,227.1 628.8,227.6 C630.5,228.1 632.2,228.8 633.9,230.2 C635.6,231.6 637.0,233.6 638.9,236.3 C640.8,239.0 643.0,243.1 645.0,246.5 C647.0,249.9 649.1,253.6 651.1,256.7 C653.1,259.8 655.2,262.5 657.2,264.8 C659.2,267.1 660.9,268.5 663.3,270.3 C665.7,272.1 668.7,273.7 671.5,275.5 C674.3,277.3 677.7,279.5 680.0,281.0 C682.3,282.5 682.7,283.2 685.2,284.6 C687.8,286.0 691.9,287.8 695.3,289.1 C698.7,290.4 702.3,291.3 705.5,292.2 C708.7,293.1 712.2,294.5 714.6,294.6 C717.0,294.7 718.0,294.2 719.7,292.8 C721.4,291.4 722.9,289.2 724.8,286.1 C726.7,283.0 728.9,278.1 730.9,273.9 C732.9,269.7 735.0,264.8 737.0,260.7 C739.0,256.6 741.1,252.9 743.1,249.5 C745.1,246.1 747.2,242.9 749.2,240.3 C751.2,237.8 753.4,235.6 755.3,234.2 C757.2,232.8 758.7,232.0 760.4,231.6 C762.1,231.2 763.7,231.2 765.4,231.6 C767.1,232.0 768.7,232.9 770.5,234.2 C772.3,235.5 774.1,236.7 776.1,239.2 C778.1,241.7 780.2,245.8 782.2,249.4 C784.2,253.0 786.1,257.2 788.3,260.6 C790.5,264.0 793.0,267.3 795.4,269.7 C797.8,272.1 800.0,273.4 802.5,274.8 C805.0,276.2 807.7,276.8 810.7,278.3 C813.8,279.8 817.4,282.0 820.8,283.9 C824.2,285.8 827.6,287.7 831.0,289.6 C834.4,291.5 837.7,293.3 841.1,295.1 C844.5,296.9 848.8,299.3 851.3,300.2 C853.8,301.1 854.7,300.9 856.4,300.6 C858.1,300.3 860.0,299.4 861.5,298.2 C863.0,296.9 863.9,295.2 865.5,293.1 C867.1,291.0 869.1,288.6 871.1,285.7 C873.1,282.8 875.2,278.8 877.2,275.6 C879.2,272.4 881.3,269.1 883.3,266.4 C885.3,263.7 887.4,261.3 889.4,259.3 C891.4,257.3 893.6,255.4 895.5,254.2 C897.4,253.0 898.9,252.5 900.6,252.2 C902.3,251.9 904.0,251.9 905.7,252.2 C907.4,252.5 909.0,252.8 910.7,254.2 C912.4,255.5 913.9,257.6 915.8,260.3 C917.7,263.0 919.9,267.3 921.9,270.5 C923.9,273.7 926.0,276.7 928.0,279.6 C930.0,282.5 932.1,285.7 934.1,287.8 C936.1,289.9 937.8,290.8 940.2,292.4 C942.6,294.0 945.6,295.6 948.3,297.3 C951.0,299.0 954.0,301.0 956.5,302.6 C959.0,304.2 960.3,305.6 963.1,307.1 C965.9,308.6 969.9,310.2 973.3,311.5 C976.7,312.8 980.5,313.8 983.5,314.6 C986.5,315.5 989.4,316.3 991.6,316.6 C993.8,316.9 995.0,317.1 996.7,316.2 C998.4,315.3 999.9,313.8 1001.7,311.1 C1003.6,308.4 1005.5,305.0 1007.8,300.0 C1010.1,295.0 1013.2,286.3 1015.4,281.0 C1017.6,275.7 1019.0,272.5 1020.8,268.3 C1022.6,264.1 1024.5,259.8 1026.3,255.7 C1028.1,251.6 1029.9,247.4 1031.7,243.9 C1033.5,240.4 1035.3,237.2 1037.1,234.9 C1038.9,232.6 1040.7,230.8 1042.5,229.8 C1044.3,228.8 1046.2,228.6 1047.9,229.1 C1049.6,229.6 1051.0,231.4 1052.5,233.1 C1054.0,234.8 1055.3,236.7 1057.0,239.4 C1058.7,242.1 1060.8,246.3 1062.4,249.3 C1064.1,252.3 1065.4,255.2 1066.9,257.5 C1068.4,259.9 1069.4,261.3 1071.4,263.4 C1073.4,265.5 1076.3,267.9 1078.7,270.1 C1081.1,272.3 1083.5,274.3 1085.9,276.4 C1088.3,278.5 1091.6,281.5 1093.1,282.8 C1094.5,284.1 1094.3,284.0 1094.6,284.2" fill="none" stroke="#ff0000" stroke-width="3.2" stroke-linejoin="round" stroke-linecap="butt"/>
<text x="161.3" y="282.5" font-size="18" text-anchor="middle" fill="#000">11</text>
<text x="213.6" y="231" font-size="18" text-anchor="middle" fill="#000">17</text>
<text x="300" y="304.5" font-size="18" text-anchor="middle" fill="#000">9</text>
<text x="345.6" y="233.2" font-size="18" text-anchor="middle" fill="#000">17</text>
<text x="437.9" y="307.9" font-size="18" text-anchor="middle" fill="#000">8</text>
<text x="489.3" y="239.5" font-size="18" text-anchor="middle" fill="#000">17</text>
<text x="576.6" y="311.5" font-size="18" text-anchor="middle" fill="#000">8</text>
<text x="627.4" y="248.6" font-size="18" text-anchor="middle" fill="#000">15</text>
<text x="714.6" y="315.3" font-size="18" text-anchor="middle" fill="#000">8</text>
<text x="766.6" y="252.6" font-size="18" text-anchor="middle" fill="#000">15</text>
<text x="852.7" y="321.3" font-size="18" text-anchor="middle" fill="#000">7</text>
<text x="904.6" y="272.8" font-size="18" text-anchor="middle" fill="#000">13</text>
<text x="990.6" y="337.9" font-size="18" text-anchor="middle" fill="#000">5</text>
<text x="1048.3" y="250.4" font-size="18" text-anchor="middle" fill="#000">15</text>
<text x="1094.5" y="305.2" font-size="18" text-anchor="middle" fill="#000">9</text>
<path d="M144.68,100.70 A12.87,12.87 0 1 0 144.68,126.40 A18.48,18.48 0 0 1 144.68,100.70Z" fill="#fff" stroke="#000" stroke-width="1.6" stroke-linejoin="round"/><g fill="#2d4d73"><circle cx="140.39" cy="120.48" r="6.15"/><circle cx="147.39" cy="117.30" r="7.63"/><circle cx="154.60" cy="120.79" r="6.04"/><rect x="139.54" y="119.84" width="15.90" height="6.79" rx="1.7"/></g><g fill="#d4d4d4"><circle cx="140.39" cy="120.48" r="4.45"/><circle cx="147.39" cy="117.30" r="5.93"/><circle cx="154.60" cy="120.79" r="4.34"/><rect x="141.24" y="119.84" width="12.50" height="5.09"/></g><path d="M149.62,120.36 A4.994000000000001,4.994000000000001 0 0 1 154.16,115.82" fill="none" stroke="#2d4d73" stroke-width="1.53" stroke-linecap="round"/>
<polygon points="175.16,110.31 168.95,109.82 168.63,111.59 174.64,113.26" fill="#f2e51c" stroke="#eeaa40" stroke-width="0.35" stroke-linejoin="round"/><polygon points="179.00,106.41 174.96,101.67 173.48,102.70 176.55,108.13" fill="#f2e51c" stroke="#eeaa40" stroke-width="0.35" stroke-linejoin="round"/><polygon points="184.48,106.37 184.97,100.16 183.20,99.84 181.53,105.85" fill="#f2e51c" stroke="#eeaa40" stroke-width="0.35" stroke-linejoin="round"/><polygon points="188.48,110.45 193.35,106.57 192.37,105.06 186.84,107.93" fill="#f2e51c" stroke="#eeaa40" stroke-width="0.35" stroke-linejoin="round"/><polygon points="188.33,115.92 194.51,116.62 194.89,114.86 188.95,112.99" fill="#f2e51c" stroke="#eeaa40" stroke-width="0.35" stroke-linejoin="round"/><polygon points="184.34,119.69 188.22,124.56 189.73,123.58 186.86,118.05" fill="#f2e51c" stroke="#eeaa40" stroke-width="0.35" stroke-linejoin="round"/><polygon points="178.87,119.54 178.17,125.72 179.93,126.10 181.80,120.16" fill="#f2e51c" stroke="#eeaa40" stroke-width="0.35" stroke-linejoin="round"/><polygon points="175.10,115.55 170.23,119.43 171.21,120.94 176.74,118.07" fill="#f2e51c" stroke="#eeaa40" stroke-width="0.35" stroke-linejoin="round"/><circle cx="181.79" cy="113.00" r="6.4" fill="#f2e51c" stroke="#eeaa40" stroke-width="1"/><g fill="#2662be"><circle cx="166.78" cy="122.32" r="5.65"/><circle cx="173.05" cy="119.47" r="6.98"/><circle cx="179.51" cy="122.61" r="5.56"/><rect x="165.88" y="121.75" width="14.53" height="6.22" rx="1.8"/></g><g fill="#d4d4d4"><circle cx="166.78" cy="122.32" r="3.85"/><circle cx="173.05" cy="119.47" r="5.18"/><circle cx="179.51" cy="122.61" r="3.76"/><rect x="167.68" y="121.75" width="10.93" height="4.42"/></g><path d="M175.07,122.22 A4.455,4.455 0 0 1 179.12,118.17" fill="none" stroke="#2662be" stroke-width="1.62" stroke-linecap="round"/>
<polygon points="209.72,110.31 203.51,109.82 203.19,111.59 209.20,113.26" fill="#f2e51c" stroke="#eeaa40" stroke-width="0.35" stroke-linejoin="round"/><polygon points="213.56,106.41 209.52,101.67 208.04,102.70 211.11,108.13" fill="#f2e51c" stroke="#eeaa40" stroke-width="0.35" stroke-linejoin="round"/><polygon points="219.04,106.37 219.53,100.16 217.76,99.84 216.09,105.85" fill="#f2e51c" stroke="#eeaa40" stroke-width="0.35" stroke-linejoin="round"/><polygon points="223.04,110.45 227.91,106.57 226.93,105.06 221.40,107.93" fill="#f2e51c" stroke="#eeaa40" stroke-width="0.35" stroke-linejoin="round"/><polygon points="222.89,115.92 229.07,116.62 229.45,114.86 223.51,112.99" fill="#f2e51c" stroke="#eeaa40" stroke-width="0.35" stroke-linejoin="round"/><polygon points="218.90,119.69 222.78,124.56 224.29,123.58 221.42,118.05" fill="#f2e51c" stroke="#eeaa40" stroke-width="0.35" stroke-linejoin="round"/><polygon points="213.43,119.54 212.73,125.72 214.49,126.10 216.36,120.16" fill="#f2e51c" stroke="#eeaa40" stroke-width="0.35" stroke-linejoin="round"/><polygon points="209.66,115.55 204.79,119.43 205.77,120.94 211.30,118.07" fill="#f2e51c" stroke="#eeaa40" stroke-width="0.35" stroke-linejoin="round"/><circle cx="216.35" cy="113.00" r="6.4" fill="#f2e51c" stroke="#eeaa40" stroke-width="1"/><g fill="#2662be"><circle cx="201.34" cy="122.32" r="5.65"/><circle cx="207.61" cy="119.47" r="6.98"/><circle cx="214.07" cy="122.61" r="5.56"/><rect x="200.44" y="121.75" width="14.53" height="6.22" rx="1.8"/></g><g fill="#d4d4d4"><circle cx="201.34" cy="122.32" r="3.85"/><circle cx="207.61" cy="119.47" r="5.18"/><circle cx="214.07" cy="122.61" r="3.76"/><rect x="202.24" y="121.75" width="10.93" height="4.42"/></g><path d="M209.63,122.22 A4.455,4.455 0 0 1 213.68,118.17" fill="none" stroke="#2662be" stroke-width="1.62" stroke-linecap="round"/>
<path d="M248.36,100.70 A12.87,12.87 0 1 0 248.36,126.40 A18.48,18.48 0 0 1 248.36,100.70Z" fill="#fff" stroke="#000" stroke-width="1.6" stroke-linejoin="round"/><g fill="#2d4d73"><circle cx="244.07" cy="120.48" r="6.15"/><circle cx="251.07" cy="117.30" r="7.63"/><circle cx="258.28" cy="120.79" r="6.04"/><rect x="243.22" y="119.84" width="15.90" height="6.79" rx="1.7"/></g><g fill="#d4d4d4"><circle cx="244.07" cy="120.48" r="4.45"/><circle cx="251.07" cy="117.30" r="5.93"/><circle cx="258.28" cy="120.79" r="4.34"/><rect x="244.92" y="119.84" width="12.50" height="5.09"/></g><path d="M253.30,120.36 A4.994000000000001,4.994000000000001 0 0 1 257.84,115.82" fill="none" stroke="#2d4d73" stroke-width="1.53" stroke-linecap="round"/>
<path d="M282.92,100.70 A12.87,12.87 0 1 0 282.92,126.40 A18.48,18.48 0 0 1 282.92,100.70Z" fill="#fff" stroke="#000" stroke-width="1.6" stroke-linejoin="round"/><g fill="#2d4d73"><circle cx="278.63" cy="120.48" r="6.15"/><circle cx="285.63" cy="117.30" r="7.63"/><circle cx="292.84" cy="120.79" r="6.04"/><rect x="277.78" y="119.84" width="15.90" height="6.79" rx="1.7"/></g><g fill="#d4d4d4"><circle cx="278.63" cy="120.48" r="4.45"/><circle cx="285.63" cy="117.30" r="5.93"/><circle cx="292.84" cy="120.79" r="4.34"/><rect x="279.48" y="119.84" width="12.50" height="5.09"/></g><path d="M287.86,120.36 A4.994000000000001,4.994000000000001 0 0 1 292.40,115.82" fill="none" stroke="#2d4d73" stroke-width="1.53" stroke-linecap="round"/>
<polygon points="313.40,110.31 307.19,109.82 306.87,111.59 312.88,113.26" fill="#f2e51c" stroke="#eeaa40" stroke-width="0.35" stroke-linejoin="round"/><polygon points="317.24,106.41 313.20,101.67 311.72,102.70 314.79,108.13" fill="#f2e51c" stroke="#eeaa40" stroke-width="0.35" stroke-linejoin="round"/><polygon points="322.72,106.37 323.21,100.16 321.44,99.84 319.77,105.85" fill="#f2e51c" stroke="#eeaa40" stroke-width="0.35" stroke-linejoin="round"/><polygon points="326.72,110.45 331.59,106.57 330.61,105.06 325.08,107.93" fill="#f2e51c" stroke="#eeaa40" stroke-width="0.35" stroke-linejoin="round"/><polygon points="326.57,115.92 332.75,116.62 333.13,114.86 327.19,112.99" fill="#f2e51c" stroke="#eeaa40" stroke-width="0.35" stroke-linejoin="round"/><polygon points="322.58,119.69 326.46,124.56 327.97,123.58 325.10,118.05" fill="#f2e51c" stroke="#eeaa40" stroke-width="0.35" stroke-linejoin="round"/><polygon points="317.11,119.54 316.41,125.72 318.17,126.10 320.04,120.16" fill="#f2e51c" stroke="#eeaa40" stroke-width="0.35" stroke-linejoin="round"/><polygon points="313.34,115.55 308.47,119.43 309.45,120.94 314.98,118.07" fill="#f2e51c" stroke="#eeaa40" stroke-width="0.35" stroke-linejoin="round"/><circle cx="320.03" cy="113.00" r="6.4" fill="#f2e51c" stroke="#eeaa40" stroke-width="1"/><g fill="#2662be"><circle cx="305.02" cy="122.32" r="5.65"/><circle cx="311.29" cy="119.47" r="6.98"/><circle cx="317.75" cy="122.61" r="5.56"/><rect x="304.12" y="121.75" width="14.53" height="6.22" rx="1.8"/></g><g fill="#d4d4d4"><circle cx="305.02" cy="122.32" r="3.85"/><circle cx="311.29" cy="119.47" r="5.18"/><circle cx="317.75" cy="122.61" r="3.76"/><rect x="305.92" y="121.75" width="10.93" height="4.42"/></g><path d="M313.31,122.22 A4.455,4.455 0 0 1 317.36,118.17" fill="none" stroke="#2662be" stroke-width="1.62" stroke-linecap="round"/>
<polygon points="347.96,110.31 341.75,109.82 341.43,111.59 347.44,113.26" fill="#f2e51c" stroke="#eeaa40" stroke-width="0.35" stroke-linejoin="round"/><polygon points="351.80,106.41 347.76,101.67 346.28,102.70 349.35,108.13" fill="#f2e51c" stroke="#eeaa40" stroke-width="0.35" stroke-linejoin="round"/><polygon points="357.28,106.37 357.77,100.16 356.00,99.84 354.33,105.85" fill="#f2e51c" stroke="#eeaa40" stroke-width="0.35" stroke-linejoin="round"/><polygon points="361.28,110.45 366.15,106.57 365.17,105.06 359.64,107.93" fill="#f2e51c" stroke="#eeaa40" stroke-width="0.35" stroke-linejoin="round"/><polygon points="361.13,115.92 367.31,116.62 367.69,114.86 361.75,112.99" fill="#f2e51c" stroke="#eeaa40" stroke-width="0.35" stroke-linejoin="round"/><polygon points="357.14,119.69 361.02,124.56 362.53,123.58 359.66,118.05" fill="#f2e51c" stroke="#eeaa40" stroke-width="0.35" stroke-linejoin="round"/><polygon points="351.67,119.54 350.97,125.72 352.73,126.10 354.60,120.16" fill="#f2e51c" stroke="#eeaa40" stroke-width="0.35" stroke-linejoin="round"/><polygon points="347.90,115.55 343.03,119.43 344.01,120.94 349.54,118.07" fill="#f2e51c" stroke="#eeaa40" stroke-width="0.35" stroke-linejoin="round"/><circle cx="354.59" cy="113.00" r="6.4" fill="#f2e51c" stroke="#eeaa40" stroke-width="1"/><g fill="#2662be"><circle cx="339.58" cy="122.32" r="5.65"/><circle cx="345.85" cy="119.47" r="6.98"/><circle cx="352.31" cy="122.61" r="5.56"/><rect x="338.68" y="121.75" width="14.53" height="6.22" rx="1.8"/></g><g fill="#d4d4d4"><circle cx="339.58" cy="122.32" r="3.85"/><circle cx="345.85" cy="119.47" r="5.18"/><circle cx="352.31" cy="122.61" r="3.76"/><rect x="340.48" y="121.75" width="10.93" height="4.42"/></g><path d="M347.87,122.22 A4.455,4.455 0 0 1 351.92,118.17" fill="none" stroke="#2662be" stroke-width="1.62" stroke-linecap="round"/>
<path d="M389.70,100.70 A12.74,12.74 0 1 0 389.70,126.10 A17.41,17.41 0 0 1 389.70,100.70Z" fill="#fff" stroke="#000" stroke-width="1.6" stroke-linejoin="round"/><g fill="#2d4d73"><circle cx="384.65" cy="120.70" r="4.45"/><circle cx="389.53" cy="118.48" r="5.49"/><circle cx="394.56" cy="120.93" r="4.38"/><rect x="383.90" y="120.26" width="11.42" height="4.89" rx="1.5"/></g><g fill="#d4d4d4"><circle cx="384.65" cy="120.70" r="2.95"/><circle cx="389.53" cy="118.48" r="3.99"/><circle cx="394.56" cy="120.93" r="2.88"/><rect x="385.40" y="120.26" width="8.42" height="3.39"/></g><path d="M391.15,120.63 A3.426,3.426 0 0 1 394.27,117.51" fill="none" stroke="#2d4d73" stroke-width="1.35" stroke-linecap="round"/>
<path d="M421.16,100.70 A12.87,12.87 0 1 0 421.16,126.40 A18.48,18.48 0 0 1 421.16,100.70Z" fill="#fff" stroke="#000" stroke-width="1.6" stroke-linejoin="round"/><g fill="#2d4d73"><circle cx="416.87" cy="120.48" r="6.15"/><circle cx="423.87" cy="117.30" r="7.63"/><circle cx="431.08" cy="120.79" r="6.04"/><rect x="416.02" y="119.84" width="15.90" height="6.79" rx="1.7"/></g><g fill="#d4d4d4"><circle cx="416.87" cy="120.48" r="4.45"/><circle cx="423.87" cy="117.30" r="5.93"/><circle cx="431.08" cy="120.79" r="4.34"/><rect x="417.72" y="119.84" width="12.50" height="5.09"/></g><path d="M426.10,120.36 A4.994000000000001,4.994000000000001 0 0 1 430.64,115.82" fill="none" stroke="#2d4d73" stroke-width="1.53" stroke-linecap="round"/>
<polygon points="451.64,110.31 445.43,109.82 445.11,111.59 451.12,113.26" fill="#f2e51c" stroke="#eeaa40" stroke-width="0.35" stroke-linejoin="round"/><polygon points="455.48,106.41 451.44,101.67 449.96,102.70 453.03,108.13" fill="#f2e51c" stroke="#eeaa40" stroke-width="0.35" stroke-linejoin="round"/><polygon points="460.96,106.37 461.45,100.16 459.68,99.84 458.01,105.85" fill="#f2e51c" stroke="#eeaa40" stroke-width="0.35" stroke-linejoin="round"/><polygon points="464.96,110.45 469.83,106.57 468.85,105.06 463.32,107.93" fill="#f2e51c" stroke="#eeaa40" stroke-width="0.35" stroke-linejoin="round"/><polygon points="464.81,115.92 470.99,116.62 471.37,114.86 465.43,112.99" fill="#f2e51c" stroke="#eeaa40" stroke-width="0.35" stroke-linejoin="round"/><polygon points="460.82,119.69 464.70,124.56 466.21,123.58 463.34,118.05" fill="#f2e51c" stroke="#eeaa40" stroke-width="0.35" stroke-linejoin="round"/><polygon points="455.35,119.54 454.65,125.72 456.41,126.10 458.28,120.16" fill="#f2e51c" stroke="#eeaa40" stroke-width="0.35" stroke-linejoin="round"/><polygon points="451.58,115.55 446.71,119.43 447.69,120.94 453.22,118.07" fill="#f2e51c" stroke="#eeaa40" stroke-width="0.35" stroke-linejoin="round"/><circle cx="458.27" cy="113.00" r="6.4" fill="#f2e51c" stroke="#eeaa40" stroke-width="1"/><g fill="#2662be"><circle cx="443.26" cy="122.32" r="5.65"/><circle cx="449.53" cy="119.47" r="6.98"/><circle cx="455.99" cy="122.61" r="5.56"/><rect x="442.36" y="121.75" width="14.53" height="6.22" rx="1.8"/></g><g fill="#d4d4d4"><circle cx="443.26" cy="122.32" r="3.85"/><circle cx="449.53" cy="119.47" r="5.18"/><circle cx="455.99" cy="122.61" r="3.76"/><rect x="444.16" y="121.75" width="10.93" height="4.42"/></g><path d="M451.55,122.22 A4.455,4.455 0 0 1 455.60,118.17" fill="none" stroke="#2662be" stroke-width="1.62" stroke-linecap="round"/>
<polygon points="480.75,109.91 474.54,109.42 474.22,111.19 480.23,112.86" fill="#f2e51c" stroke="#eeaa40" stroke-width="0.35" stroke-linejoin="round"/><polygon points="484.59,106.01 480.55,101.27 479.07,102.30 482.14,107.73" fill="#f2e51c" stroke="#eeaa40" stroke-width="0.35" stroke-linejoin="round"/><polygon points="490.07,105.97 490.56,99.76 488.79,99.44 487.12,105.45" fill="#f2e51c" stroke="#eeaa40" stroke-width="0.35" stroke-linejoin="round"/><polygon points="494.07,110.05 498.94,106.17 497.96,104.66 492.43,107.53" fill="#f2e51c" stroke="#eeaa40" stroke-width="0.35" stroke-linejoin="round"/><polygon points="493.92,115.52 500.10,116.22 500.48,114.46 494.54,112.59" fill="#f2e51c" stroke="#eeaa40" stroke-width="0.35" stroke-linejoin="round"/><polygon points="489.93,119.29 493.81,124.16 495.32,123.18 492.45,117.65" fill="#f2e51c" stroke="#eeaa40" stroke-width="0.35" stroke-linejoin="round"/><polygon points="484.46,119.14 483.76,125.32 485.52,125.70 487.39,119.76" fill="#f2e51c" stroke="#eeaa40" stroke-width="0.35" stroke-linejoin="round"/><polygon points="480.69,115.15 475.82,119.03 476.80,120.54 482.33,117.67" fill="#f2e51c" stroke="#eeaa40" stroke-width="0.35" stroke-linejoin="round"/><circle cx="487.38" cy="112.60" r="6.3" fill="#f2e51c" stroke="#eeaa40" stroke-width="1"/><g fill="#2662be"><circle cx="490.48" cy="120.51" r="4.50"/><circle cx="495.29" cy="118.32" r="5.52"/><circle cx="500.26" cy="120.73" r="4.43"/><rect x="489.63" y="120.07" width="11.48" height="4.94" rx="1.7"/></g><g fill="#fff"><circle cx="490.48" cy="120.51" r="2.80"/><circle cx="495.29" cy="118.32" r="3.82"/><circle cx="500.26" cy="120.73" r="2.73"/><rect x="491.33" y="120.07" width="8.08" height="3.24"/></g><path d="M496.89,120.43 A3.377,3.377 0 0 1 499.96,117.36" fill="none" stroke="#2662be" stroke-width="1.53" stroke-linecap="round"/>
<path d="M524.84,100.70 A12.87,12.87 0 1 0 524.84,126.40 A18.48,18.48 0 0 1 524.84,100.70Z" fill="#fff" stroke="#000" stroke-width="1.6" stroke-linejoin="round"/><g fill="#2d4d73"><circle cx="520.55" cy="120.48" r="6.15"/><circle cx="527.55" cy="117.30" r="7.63"/><circle cx="534.76" cy="120.79" r="6.04"/><rect x="519.70" y="119.84" width="15.90" height="6.79" rx="1.7"/></g><g fill="#d4d4d4"><circle cx="520.55" cy="120.48" r="4.45"/><circle cx="527.55" cy="117.30" r="5.93"/><circle cx="534.76" cy="120.79" r="4.34"/><rect x="521.40" y="119.84" width="12.50" height="5.09"/></g><path d="M529.78,120.36 A4.994000000000001,4.994000000000001 0 0 1 534.32,115.82" fill="none" stroke="#2d4d73" stroke-width="1.53" stroke-linecap="round"/>
<path d="M566.70,100.70 A12.77,12.77 0 1 0 566.70,126.10 A17.20,17.20 0 0 1 566.70,100.70Z" fill="#fff" stroke="#000" stroke-width="1.6" stroke-linejoin="round"/>
<polygon points="589.88,110.31 583.67,109.82 583.35,111.59 589.36,113.26" fill="#f2e51c" stroke="#eeaa40" stroke-width="0.35" stroke-linejoin="round"/><polygon points="593.72,106.41 589.68,101.67 588.20,102.70 591.27,108.13" fill="#f2e51c" stroke="#eeaa40" stroke-width="0.35" stroke-linejoin="round"/><polygon points="599.20,106.37 599.69,100.16 597.92,99.84 596.25,105.85" fill="#f2e51c" stroke="#eeaa40" stroke-width="0.35" stroke-linejoin="round"/><polygon points="603.20,110.45 608.07,106.57 607.09,105.06 601.56,107.93" fill="#f2e51c" stroke="#eeaa40" stroke-width="0.35" stroke-linejoin="round"/><polygon points="603.05,115.92 609.23,116.62 609.61,114.86 603.67,112.99" fill="#f2e51c" stroke="#eeaa40" stroke-width="0.35" stroke-linejoin="round"/><polygon points="599.06,119.69 602.94,124.56 604.45,123.58 601.58,118.05" fill="#f2e51c" stroke="#eeaa40" stroke-width="0.35" stroke-linejoin="round"/><polygon points="593.59,119.54 592.89,125.72 594.65,126.10 596.52,120.16" fill="#f2e51c" stroke="#eeaa40" stroke-width="0.35" stroke-linejoin="round"/><polygon points="589.82,115.55 584.95,119.43 585.93,120.94 591.46,118.07" fill="#f2e51c" stroke="#eeaa40" stroke-width="0.35" stroke-linejoin="round"/><circle cx="596.51" cy="113.00" r="6.4" fill="#f2e51c" stroke="#eeaa40" stroke-width="1"/><g fill="#2662be"><circle cx="581.50" cy="122.32" r="5.65"/><circle cx="587.77" cy="119.47" r="6.98"/><circle cx="594.23" cy="122.61" r="5.56"/><rect x="580.60" y="121.75" width="14.53" height="6.22" rx="1.8"/></g><g fill="#d4d4d4"><circle cx="581.50" cy="122.32" r="3.85"/><circle cx="587.77" cy="119.47" r="5.18"/><circle cx="594.23" cy="122.61" r="3.76"/><rect x="582.40" y="121.75" width="10.93" height="4.42"/></g><path d="M589.79,122.22 A4.455,4.455 0 0 1 593.84,118.17" fill="none" stroke="#2662be" stroke-width="1.62" stroke-linecap="round"/>
<g fill="#2662be"><circle cx="616.72" cy="117.50" r="6.45"/><circle cx="627.42" cy="109.70" r="6.55"/><circle cx="639.32" cy="114.50" r="7.05"/><rect x="615.87" y="112.00" width="24.30" height="11.35" rx="1.7"/></g><g fill="#d4d4d4"><circle cx="616.72" cy="117.50" r="4.75"/><circle cx="627.42" cy="109.70" r="4.85"/><circle cx="639.32" cy="114.50" r="5.35"/><rect x="617.57" y="112.00" width="20.90" height="9.65"/></g><g fill="#2662be"><circle cx="623.92" cy="119.40" r="4.95"/><circle cx="630.32" cy="115.80" r="5.95"/><circle cx="638.12" cy="119.90" r="5.15"/><rect x="623.07" y="118.50" width="15.90" height="6.95" rx="1.7"/></g><g fill="#fff"><circle cx="623.92" cy="119.40" r="3.25"/><circle cx="630.32" cy="115.80" r="4.25"/><circle cx="638.12" cy="119.90" r="3.45"/><rect x="624.77" y="118.50" width="12.50" height="5.25"/></g><path d="M634.04,119.54 A4.1,4.1 0 0 1 637.76,115.82" fill="none" stroke="#2662be" stroke-width="1.53" stroke-linecap="round"/>
<g fill="#2d4d73"><circle cx="651.28" cy="117.50" r="6.45"/><circle cx="661.98" cy="109.70" r="6.55"/><circle cx="673.88" cy="114.50" r="7.05"/><rect x="650.43" y="112.00" width="24.30" height="11.35" rx="1.7"/></g><g fill="#d4d4d4"><circle cx="651.28" cy="117.50" r="4.75"/><circle cx="661.98" cy="109.70" r="4.85"/><circle cx="673.88" cy="114.50" r="5.35"/><rect x="652.13" y="112.00" width="20.90" height="9.65"/></g><g fill="#2d4d73"><circle cx="658.48" cy="119.40" r="4.95"/><circle cx="664.88" cy="115.80" r="5.95"/><circle cx="672.68" cy="119.90" r="5.15"/><rect x="657.63" y="118.50" width="15.90" height="6.95" rx="1.7"/></g><g fill="#fff"><circle cx="658.48" cy="119.40" r="3.25"/><circle cx="664.88" cy="115.80" r="4.25"/><circle cx="672.68" cy="119.90" r="3.45"/><rect x="659.33" y="118.50" width="12.50" height="5.25"/></g><path d="M668.60,119.54 A4.1,4.1 0 0 1 672.32,115.82" fill="none" stroke="#2d4d73" stroke-width="1.53" stroke-linecap="round"/>
<path d="M697.64,100.70 A12.87,12.87 0 1 0 697.64,126.40 A18.48,18.48 0 0 1 697.64,100.70Z" fill="#fff" stroke="#000" stroke-width="1.6" stroke-linejoin="round"/><g fill="#2d4d73"><circle cx="693.35" cy="120.48" r="6.15"/><circle cx="700.35" cy="117.30" r="7.63"/><circle cx="707.56" cy="120.79" r="6.04"/><rect x="692.50" y="119.84" width="15.90" height="6.79" rx="1.7"/></g><g fill="#d4d4d4"><circle cx="693.35" cy="120.48" r="4.45"/><circle cx="700.35" cy="117.30" r="5.93"/><circle cx="707.56" cy="120.79" r="4.34"/><rect x="694.20" y="119.84" width="12.50" height="5.09"/></g><path d="M702.58,120.36 A4.994000000000001,4.994000000000001 0 0 1 707.12,115.82" fill="none" stroke="#2d4d73" stroke-width="1.53" stroke-linecap="round"/>
<polygon points="728.12,110.31 721.91,109.82 721.59,111.59 727.60,113.26" fill="#f2e51c" stroke="#eeaa40" stroke-width="0.35" stroke-linejoin="round"/><polygon points="731.96,106.41 727.92,101.67 726.44,102.70 729.51,108.13" fill="#f2e51c" stroke="#eeaa40" stroke-width="0.35" stroke-linejoin="round"/><polygon points="737.44,106.37 737.93,100.16 736.16,99.84 734.49,105.85" fill="#f2e51c" stroke="#eeaa40" stroke-width="0.35" stroke-linejoin="round"/><polygon points="741.44,110.45 746.31,106.57 745.33,105.06 739.80,107.93" fill="#f2e51c" stroke="#eeaa40" stroke-width="0.35" stroke-linejoin="round"/><polygon points="741.29,115.92 747.47,116.62 747.85,114.86 741.91,112.99" fill="#f2e51c" stroke="#eeaa40" stroke-width="0.35" stroke-linejoin="round"/><polygon points="737.30,119.69 741.18,124.56 742.69,123.58 739.82,118.05" fill="#f2e51c" stroke="#eeaa40" stroke-width="0.35" stroke-linejoin="round"/><polygon points="731.83,119.54 731.13,125.72 732.89,126.10 734.76,120.16" fill="#f2e51c" stroke="#eeaa40" stroke-width="0.35" stroke-linejoin="round"/><polygon points="728.06,115.55 723.19,119.43 724.17,120.94 729.70,118.07" fill="#f2e51c" stroke="#eeaa40" stroke-width="0.35" stroke-linejoin="round"/><circle cx="734.75" cy="113.00" r="6.4" fill="#f2e51c" stroke="#eeaa40" stroke-width="1"/><g fill="#2662be"><circle cx="719.74" cy="122.32" r="5.65"/><circle cx="726.01" cy="119.47" r="6.98"/><circle cx="732.47" cy="122.61" r="5.56"/><rect x="718.84" y="121.75" width="14.53" height="6.22" rx="1.8"/></g><g fill="#d4d4d4"><circle cx="719.74" cy="122.32" r="3.85"/><circle cx="726.01" cy="119.47" r="5.18"/><circle cx="732.47" cy="122.61" r="3.76"/><rect x="720.64" y="121.75" width="10.93" height="4.42"/></g><path d="M728.03,122.22 A4.455,4.455 0 0 1 732.08,118.17" fill="none" stroke="#2662be" stroke-width="1.62" stroke-linecap="round"/>
<polygon points="762.68,110.31 756.47,109.82 756.15,111.59 762.16,113.26" fill="#f2e51c" stroke="#eeaa40" stroke-width="0.35" stroke-linejoin="round"/><polygon points="766.52,106.41 762.48,101.67 761.00,102.70 764.07,108.13" fill="#f2e51c" stroke="#eeaa40" stroke-width="0.35" stroke-linejoin="round"/><polygon points="772.00,106.37 772.49,100.16 770.72,99.84 769.05,105.85" fill="#f2e51c" stroke="#eeaa40" stroke-width="0.35" stroke-linejoin="round"/><polygon points="776.00,110.45 780.87,106.57 779.89,105.06 774.36,107.93" fill="#f2e51c" stroke="#eeaa40" stroke-width="0.35" stroke-linejoin="round"/><polygon points="775.85,115.92 782.03,116.62 782.41,114.86 776.47,112.99" fill="#f2e51c" stroke="#eeaa40" stroke-width="0.35" stroke-linejoin="round"/><polygon points="771.86,119.69 775.74,124.56 777.25,123.58 774.38,118.05" fill="#f2e51c" stroke="#eeaa40" stroke-width="0.35" stroke-linejoin="round"/><polygon points="766.39,119.54 765.69,125.72 767.45,126.10 769.32,120.16" fill="#f2e51c" stroke="#eeaa40" stroke-width="0.35" stroke-linejoin="round"/><polygon points="762.62,115.55 757.75,119.43 758.73,120.94 764.26,118.07" fill="#f2e51c" stroke="#eeaa40" stroke-width="0.35" stroke-linejoin="round"/><circle cx="769.31" cy="113.00" r="6.4" fill="#f2e51c" stroke="#eeaa40" stroke-width="1"/><g fill="#2662be"><circle cx="754.30" cy="122.32" r="5.65"/><circle cx="760.57" cy="119.47" r="6.98"/><circle cx="767.03" cy="122.61" r="5.56"/><rect x="753.40" y="121.75" width="14.53" height="6.22" rx="1.8"/></g><g fill="#d4d4d4"><circle cx="754.30" cy="122.32" r="3.85"/><circle cx="760.57" cy="119.47" r="5.18"/><circle cx="767.03" cy="122.61" r="3.76"/><rect x="755.20" y="121.75" width="10.93" height="4.42"/></g><path d="M762.59,122.22 A4.455,4.455 0 0 1 766.64,118.17" fill="none" stroke="#2662be" stroke-width="1.62" stroke-linecap="round"/>
<path d="M801.32,100.70 A12.87,12.87 0 1 0 801.32,126.40 A18.48,18.48 0 0 1 801.32,100.70Z" fill="#fff" stroke="#000" stroke-width="1.6" stroke-linejoin="round"/><g fill="#2d4d73"><circle cx="797.03" cy="120.48" r="6.15"/><circle cx="804.03" cy="117.30" r="7.63"/><circle cx="811.24" cy="120.79" r="6.04"/><rect x="796.18" y="119.84" width="15.90" height="6.79" rx="1.7"/></g><g fill="#d4d4d4"><circle cx="797.03" cy="120.48" r="4.45"/><circle cx="804.03" cy="117.30" r="5.93"/><circle cx="811.24" cy="120.79" r="4.34"/><rect x="797.88" y="119.84" width="12.50" height="5.09"/></g><path d="M806.26,120.36 A4.994000000000001,4.994000000000001 0 0 1 810.80,115.82" fill="none" stroke="#2d4d73" stroke-width="1.53" stroke-linecap="round"/>
<path d="M835.88,100.70 A12.87,12.87 0 1 0 835.88,126.40 A18.48,18.48 0 0 1 835.88,100.70Z" fill="#fff" stroke="#000" stroke-width="1.6" stroke-linejoin="round"/><g fill="#2d4d73"><circle cx="831.59" cy="120.48" r="6.15"/><circle cx="838.59" cy="117.30" r="7.63"/><circle cx="845.80" cy="120.79" r="6.04"/><rect x="830.74" y="119.84" width="15.90" height="6.79" rx="1.7"/></g><g fill="#d4d4d4"><circle cx="831.59" cy="120.48" r="4.45"/><circle cx="838.59" cy="117.30" r="5.93"/><circle cx="845.80" cy="120.79" r="4.34"/><rect x="832.44" y="119.84" width="12.50" height="5.09"/></g><path d="M840.82,120.36 A4.994000000000001,4.994000000000001 0 0 1 845.36,115.82" fill="none" stroke="#2d4d73" stroke-width="1.53" stroke-linecap="round"/>
<polygon points="866.36,110.31 860.15,109.82 859.83,111.59 865.84,113.26" fill="#f2e51c" stroke="#eeaa40" stroke-width="0.35" stroke-linejoin="round"/><polygon points="870.20,106.41 866.16,101.67 864.68,102.70 867.75,108.13" fill="#f2e51c" stroke="#eeaa40" stroke-width="0.35" stroke-linejoin="round"/><polygon points="875.68,106.37 876.17,100.16 874.40,99.84 872.73,105.85" fill="#f2e51c" stroke="#eeaa40" stroke-width="0.35" stroke-linejoin="round"/><polygon points="879.68,110.45 884.55,106.57 883.57,105.06 878.04,107.93" fill="#f2e51c" stroke="#eeaa40" stroke-width="0.35" stroke-linejoin="round"/><polygon points="879.53,115.92 885.71,116.62 886.09,114.86 880.15,112.99" fill="#f2e51c" stroke="#eeaa40" stroke-width="0.35" stroke-linejoin="round"/><polygon points="875.54,119.69 879.42,124.56 880.93,123.58 878.06,118.05" fill="#f2e51c" stroke="#eeaa40" stroke-width="0.35" stroke-linejoin="round"/><polygon points="870.07,119.54 869.37,125.72 871.13,126.10 873.00,120.16" fill="#f2e51c" stroke="#eeaa40" stroke-width="0.35" stroke-linejoin="round"/><polygon points="866.30,115.55 861.43,119.43 862.41,120.94 867.94,118.07" fill="#f2e51c" stroke="#eeaa40" stroke-width="0.35" stroke-linejoin="round"/><circle cx="872.99" cy="113.00" r="6.4" fill="#f2e51c" stroke="#eeaa40" stroke-width="1"/><g fill="#2662be"><circle cx="857.98" cy="122.32" r="5.65"/><circle cx="864.25" cy="119.47" r="6.98"/><circle cx="870.71" cy="122.61" r="5.56"/><rect x="857.08" y="121.75" width="14.53" height="6.22" rx="1.8"/></g><g fill="#d4d4d4"><circle cx="857.98" cy="122.32" r="3.85"/><circle cx="864.25" cy="119.47" r="5.18"/><circle cx="870.71" cy="122.61" r="3.76"/><rect x="858.88" y="121.75" width="10.93" height="4.42"/></g><path d="M866.27,122.22 A4.455,4.455 0 0 1 870.32,118.17" fill="none" stroke="#2662be" stroke-width="1.62" stroke-linecap="round"/>
<polygon points="895.47,109.91 889.26,109.42 888.94,111.19 894.95,112.86" fill="#f2e51c" stroke="#eeaa40" stroke-width="0.35" stroke-linejoin="round"/><polygon points="899.31,106.01 895.27,101.27 893.79,102.30 896.86,107.73" fill="#f2e51c" stroke="#eeaa40" stroke-width="0.35" stroke-linejoin="round"/><polygon points="904.79,105.97 905.28,99.76 903.51,99.44 901.84,105.45" fill="#f2e51c" stroke="#eeaa40" stroke-width="0.35" stroke-linejoin="round"/><polygon points="908.79,110.05 913.66,106.17 912.68,104.66 907.15,107.53" fill="#f2e51c" stroke="#eeaa40" stroke-width="0.35" stroke-linejoin="round"/><polygon points="908.64,115.52 914.82,116.22 915.20,114.46 909.26,112.59" fill="#f2e51c" stroke="#eeaa40" stroke-width="0.35" stroke-linejoin="round"/><polygon points="904.65,119.29 908.53,124.16 910.04,123.18 907.17,117.65" fill="#f2e51c" stroke="#eeaa40" stroke-width="0.35" stroke-linejoin="round"/><polygon points="899.18,119.14 898.48,125.32 900.24,125.70 902.11,119.76" fill="#f2e51c" stroke="#eeaa40" stroke-width="0.35" stroke-linejoin="round"/><polygon points="895.41,115.15 890.54,119.03 891.52,120.54 897.05,117.67" fill="#f2e51c" stroke="#eeaa40" stroke-width="0.35" stroke-linejoin="round"/><circle cx="902.10" cy="112.60" r="6.3" fill="#f2e51c" stroke="#eeaa40" stroke-width="1"/><g fill="#2662be"><circle cx="905.20" cy="120.51" r="4.50"/><circle cx="910.01" cy="118.32" r="5.52"/><circle cx="914.98" cy="120.73" r="4.43"/><rect x="904.35" y="120.07" width="11.48" height="4.94" rx="1.7"/></g><g fill="#fff"><circle cx="905.20" cy="120.51" r="2.80"/><circle cx="910.01" cy="118.32" r="3.82"/><circle cx="914.98" cy="120.73" r="2.73"/><rect x="906.05" y="120.07" width="8.08" height="3.24"/></g><path d="M911.61,120.43 A3.377,3.377 0 0 1 914.68,117.36" fill="none" stroke="#2662be" stroke-width="1.53" stroke-linecap="round"/>
<path d="M942.66,100.70 A12.74,12.74 0 1 0 942.66,126.10 A17.41,17.41 0 0 1 942.66,100.70Z" fill="#fff" stroke="#000" stroke-width="1.6" stroke-linejoin="round"/><g fill="#2d4d73"><circle cx="937.61" cy="120.70" r="4.45"/><circle cx="942.49" cy="118.48" r="5.49"/><circle cx="947.52" cy="120.93" r="4.38"/><rect x="936.86" y="120.26" width="11.42" height="4.89" rx="1.5"/></g><g fill="#d4d4d4"><circle cx="937.61" cy="120.70" r="2.95"/><circle cx="942.49" cy="118.48" r="3.99"/><circle cx="947.52" cy="120.93" r="2.88"/><rect x="938.36" y="120.26" width="8.42" height="3.39"/></g><path d="M944.11,120.63 A3.426,3.426 0 0 1 947.23,117.51" fill="none" stroke="#2d4d73" stroke-width="1.35" stroke-linecap="round"/>
<path d="M974.12,100.70 A12.87,12.87 0 1 0 974.12,126.40 A18.48,18.48 0 0 1 974.12,100.70Z" fill="#fff" stroke="#000" stroke-width="1.6" stroke-linejoin="round"/><g fill="#2d4d73"><circle cx="969.83" cy="120.48" r="6.15"/><circle cx="976.83" cy="117.30" r="7.63"/><circle cx="984.04" cy="120.79" r="6.04"/><rect x="968.98" y="119.84" width="15.90" height="6.79" rx="1.7"/></g><g fill="#d4d4d4"><circle cx="969.83" cy="120.48" r="4.45"/><circle cx="976.83" cy="117.30" r="5.93"/><circle cx="984.04" cy="120.79" r="4.34"/><rect x="970.68" y="119.84" width="12.50" height="5.09"/></g><path d="M979.06,120.36 A4.994000000000001,4.994000000000001 0 0 1 983.60,115.82" fill="none" stroke="#2d4d73" stroke-width="1.53" stroke-linecap="round"/>
<polygon points="999.15,109.91 992.94,109.42 992.62,111.19 998.63,112.86" fill="#f2e51c" stroke="#eeaa40" stroke-width="0.35" stroke-linejoin="round"/><polygon points="1002.99,106.01 998.95,101.27 997.47,102.30 1000.54,107.73" fill="#f2e51c" stroke="#eeaa40" stroke-width="0.35" stroke-linejoin="round"/><polygon points="1008.47,105.97 1008.96,99.76 1007.19,99.44 1005.52,105.45" fill="#f2e51c" stroke="#eeaa40" stroke-width="0.35" stroke-linejoin="round"/><polygon points="1012.47,110.05 1017.34,106.17 1016.36,104.66 1010.83,107.53" fill="#f2e51c" stroke="#eeaa40" stroke-width="0.35" stroke-linejoin="round"/><polygon points="1012.32,115.52 1018.50,116.22 1018.88,114.46 1012.94,112.59" fill="#f2e51c" stroke="#eeaa40" stroke-width="0.35" stroke-linejoin="round"/><polygon points="1008.33,119.29 1012.21,124.16 1013.72,123.18 1010.85,117.65" fill="#f2e51c" stroke="#eeaa40" stroke-width="0.35" stroke-linejoin="round"/><polygon points="1002.86,119.14 1002.16,125.32 1003.92,125.70 1005.79,119.76" fill="#f2e51c" stroke="#eeaa40" stroke-width="0.35" stroke-linejoin="round"/><polygon points="999.09,115.15 994.22,119.03 995.20,120.54 1000.73,117.67" fill="#f2e51c" stroke="#eeaa40" stroke-width="0.35" stroke-linejoin="round"/><circle cx="1005.78" cy="112.60" r="6.3" fill="#f2e51c" stroke="#eeaa40" stroke-width="1"/><g fill="#2662be"><circle cx="1008.88" cy="120.51" r="4.50"/><circle cx="1013.69" cy="118.32" r="5.52"/><circle cx="1018.66" cy="120.73" r="4.43"/><rect x="1008.03" y="120.07" width="11.48" height="4.94" rx="1.7"/></g><g fill="#fff"><circle cx="1008.88" cy="120.51" r="2.80"/><circle cx="1013.69" cy="118.32" r="3.82"/><circle cx="1018.66" cy="120.73" r="2.73"/><rect x="1009.73" y="120.07" width="8.08" height="3.24"/></g><path d="M1015.29,120.43 A3.377,3.377 0 0 1 1018.36,117.36" fill="none" stroke="#2662be" stroke-width="1.53" stroke-linecap="round"/>
<polygon points="1033.71,109.91 1027.50,109.42 1027.18,111.19 1033.19,112.86" fill="#f2e51c" stroke="#eeaa40" stroke-width="0.35" stroke-linejoin="round"/><polygon points="1037.55,106.01 1033.51,101.27 1032.03,102.30 1035.10,107.73" fill="#f2e51c" stroke="#eeaa40" stroke-width="0.35" stroke-linejoin="round"/><polygon points="1043.03,105.97 1043.52,99.76 1041.75,99.44 1040.08,105.45" fill="#f2e51c" stroke="#eeaa40" stroke-width="0.35" stroke-linejoin="round"/><polygon points="1047.03,110.05 1051.90,106.17 1050.92,104.66 1045.39,107.53" fill="#f2e51c" stroke="#eeaa40" stroke-width="0.35" stroke-linejoin="round"/><polygon points="1046.88,115.52 1053.06,116.22 1053.44,114.46 1047.50,112.59" fill="#f2e51c" stroke="#eeaa40" stroke-width="0.35" stroke-linejoin="round"/><polygon points="1042.89,119.29 1046.77,124.16 1048.28,123.18 1045.41,117.65" fill="#f2e51c" stroke="#eeaa40" stroke-width="0.35" stroke-linejoin="round"/><polygon points="1037.42,119.14 1036.72,125.32 1038.48,125.70 1040.35,119.76" fill="#f2e51c" stroke="#eeaa40" stroke-width="0.35" stroke-linejoin="round"/><polygon points="1033.65,115.15 1028.78,119.03 1029.76,120.54 1035.29,117.67" fill="#f2e51c" stroke="#eeaa40" stroke-width="0.35" stroke-linejoin="round"/><circle cx="1040.34" cy="112.60" r="6.3" fill="#f2e51c" stroke="#eeaa40" stroke-width="1"/><g fill="#2662be"><circle cx="1043.44" cy="120.51" r="4.50"/><circle cx="1048.25" cy="118.32" r="5.52"/><circle cx="1053.22" cy="120.73" r="4.43"/><rect x="1042.59" y="120.07" width="11.48" height="4.94" rx="1.7"/></g><g fill="#fff"><circle cx="1043.44" cy="120.51" r="2.80"/><circle cx="1048.25" cy="118.32" r="3.82"/><circle cx="1053.22" cy="120.73" r="2.73"/><rect x="1044.29" y="120.07" width="8.08" height="3.24"/></g><path d="M1049.85,120.43 A3.377,3.377 0 0 1 1052.92,117.36" fill="none" stroke="#2662be" stroke-width="1.53" stroke-linecap="round"/>
<g fill="#2d4d73"><circle cx="1066.00" cy="117.50" r="6.45"/><circle cx="1076.70" cy="109.70" r="6.55"/><circle cx="1088.60" cy="114.50" r="7.05"/><rect x="1065.15" y="112.00" width="24.30" height="11.35" rx="1.7"/></g><g fill="#d4d4d4"><circle cx="1066.00" cy="117.50" r="4.75"/><circle cx="1076.70" cy="109.70" r="4.85"/><circle cx="1088.60" cy="114.50" r="5.35"/><rect x="1066.85" y="112.00" width="20.90" height="9.65"/></g><g fill="#2d4d73"><circle cx="1073.20" cy="119.40" r="4.95"/><circle cx="1079.60" cy="115.80" r="5.95"/><circle cx="1087.40" cy="119.90" r="5.15"/><rect x="1072.35" y="118.50" width="15.90" height="6.95" rx="1.7"/></g><g fill="#fff"><circle cx="1073.20" cy="119.40" r="3.25"/><circle cx="1079.60" cy="115.80" r="4.25"/><circle cx="1087.40" cy="119.90" r="3.45"/><rect x="1074.05" y="118.50" width="12.50" height="5.25"/></g><path d="M1083.32,119.54 A4.1,4.1 0 0 1 1087.04,115.82" fill="none" stroke="#2d4d73" stroke-width="1.53" stroke-linecap="round"/>
<circle cx="127.20" cy="153.0" r="3.5" fill="none" stroke="#000" stroke-width="1.85"/>
<circle cx="144.48" cy="153.0" r="3.5" fill="none" stroke="#000" stroke-width="1.85"/>
<circle cx="161.76" cy="153.0" r="3.5" fill="none" stroke="#000" stroke-width="1.85"/>
<circle cx="179.04" cy="153.0" r="3.5" fill="none" stroke="#000" stroke-width="1.85"/>
<circle cx="196.32" cy="153.0" r="3.5" fill="none" stroke="#000" stroke-width="1.85"/>
<circle cx="213.60" cy="153.0" r="3.5" fill="none" stroke="#000" stroke-width="1.85"/>
<circle cx="230.88" cy="153.0" r="3.5" fill="none" stroke="#000" stroke-width="1.85"/>
<circle cx="248.16" cy="153.0" r="3.5" fill="none" stroke="#000" stroke-width="1.85"/>
<circle cx="265.44" cy="153.0" r="3.5" fill="none" stroke="#000" stroke-width="1.85"/>
<circle cx="282.72" cy="153.0" r="3.5" fill="none" stroke="#000" stroke-width="1.85"/>
<circle cx="300.00" cy="153.0" r="3.5" fill="none" stroke="#000" stroke-width="1.85"/>
<circle cx="317.28" cy="153.0" r="3.5" fill="none" stroke="#000" stroke-width="1.85"/>
<path d="M323.06,153.00 L346.06,153.00 M343.06,153.00 L344.26,157.80" fill="none" stroke="#000" stroke-width="1.75" stroke-linecap="round"/>
<path d="M340.34,153.00 L363.34,153.00 M360.34,153.00 L361.54,157.80" fill="none" stroke="#000" stroke-width="1.75" stroke-linecap="round"/>
<path d="M357.62,153.00 L380.62,153.00 M377.62,153.00 L378.44,156.30" fill="none" stroke="#000" stroke-width="1.75" stroke-linecap="round"/>
<path d="M382.66,163.87 L390.14,142.13 M389.17,144.96 L394.10,145.39" fill="none" stroke="#000" stroke-width="1.75" stroke-linecap="round"/>
<path d="M400.70,164.11 L406.66,141.89 M405.88,144.79 L410.83,144.87" fill="none" stroke="#000" stroke-width="1.75" stroke-linecap="round"/>
<path d="M416.28,163.51 L425.64,142.49 M424.42,145.23 L429.29,146.09" fill="none" stroke="#000" stroke-width="1.75" stroke-linecap="round"/>
<path d="M435.85,164.25 L440.63,141.75 M440.01,144.69 L444.95,144.51" fill="none" stroke="#000" stroke-width="1.75" stroke-linecap="round"/>
<circle cx="455.52" cy="153.0" r="3.5" fill="none" stroke="#000" stroke-width="1.85"/>
<path d="M461.30,153.00 L484.30,153.00 M481.30,153.00 L482.50,157.80" fill="none" stroke="#000" stroke-width="1.75" stroke-linecap="round"/>
<path d="M478.62,154.00 L501.54,152.00 M498.55,152.26 L499.66,155.47" fill="none" stroke="#000" stroke-width="1.75" stroke-linecap="round"/>
<path d="M497.83,159.43 L516.89,146.57 M514.41,148.25 L518.09,151.56" fill="none" stroke="#000" stroke-width="1.75" stroke-linecap="round"/>
<path d="M519.42,163.25 L529.86,142.75 M528.50,145.43 L533.32,146.54" fill="none" stroke="#000" stroke-width="1.75" stroke-linecap="round"/>
<path d="M537.61,163.66 L546.23,142.34 M545.10,145.12 L550.00,145.80" fill="none" stroke="#000" stroke-width="1.75" stroke-linecap="round"/>
<path d="M557.40,164.36 L561.00,141.64 M560.53,144.60 L565.46,144.17" fill="none" stroke="#000" stroke-width="1.75" stroke-linecap="round"/>
<path d="M574.48,164.33 L578.48,141.67 M577.96,144.63 L582.89,144.28" fill="none" stroke="#000" stroke-width="1.75" stroke-linecap="round"/>
<path d="M587.00,162.30 L600.52,143.70 M598.76,146.12 L603.34,147.97" fill="none" stroke="#000" stroke-width="1.75" stroke-linecap="round"/>
<path d="M600.89,158.40 L621.19,147.60 M618.55,149.01 L620.82,151.54" fill="none" stroke="#000" stroke-width="1.75" stroke-linecap="round"/>
<path d="M618.68,159.26 L637.96,146.74 M635.45,148.37 L637.94,150.69" fill="none" stroke="#000" stroke-width="1.75" stroke-linecap="round"/>
<path d="M636.54,160.08 L654.66,145.92 M652.30,147.77 L654.98,149.86" fill="none" stroke="#000" stroke-width="1.75" stroke-linecap="round"/>
<path d="M659.90,164.11 L665.86,141.89 M665.08,144.79 L670.03,144.87" fill="none" stroke="#000" stroke-width="1.75" stroke-linecap="round"/>
<path d="M681.76,164.39 L678.56,141.61 M678.98,144.58 L683.56,142.73" fill="none" stroke="#000" stroke-width="1.75" stroke-linecap="round"/>
<path d="M703.02,163.06 L691.86,142.94 M693.32,145.57 L696.94,142.19" fill="none" stroke="#000" stroke-width="1.75" stroke-linecap="round"/>
<path d="M719.58,163.42 L709.86,142.58 M711.13,145.30 L714.97,142.18" fill="none" stroke="#000" stroke-width="1.75" stroke-linecap="round"/>
<circle cx="732.00" cy="153.0" r="3.5" fill="none" stroke="#000" stroke-width="1.85"/>
<circle cx="749.28" cy="153.0" r="3.5" fill="none" stroke="#000" stroke-width="1.85"/>
<path d="M755.56,149.64 L777.56,156.36 M774.69,155.49 L774.43,160.43" fill="none" stroke="#000" stroke-width="1.75" stroke-linecap="round"/>
<path d="M772.55,155.19 L795.13,150.81 M792.18,151.38 L794.28,155.86" fill="none" stroke="#000" stroke-width="1.75" stroke-linecap="round"/>
<path d="M794.36,162.30 L807.88,143.70 M806.12,146.12 L810.70,147.97" fill="none" stroke="#000" stroke-width="1.75" stroke-linecap="round"/>
<path d="M813.54,163.42 L823.26,142.58 M821.99,145.30 L826.85,146.24" fill="none" stroke="#000" stroke-width="1.75" stroke-linecap="round"/>
<path d="M835.68,164.50 L835.68,141.50 M835.68,144.50 L840.48,143.30" fill="none" stroke="#000" stroke-width="1.75" stroke-linecap="round"/>
<circle cx="852.96" cy="153.0" r="3.5" fill="none" stroke="#000" stroke-width="1.85"/>
<circle cx="870.24" cy="153.0" r="3.5" fill="none" stroke="#000" stroke-width="1.85"/>
<path d="M876.19,155.00 L898.85,151.00 M895.89,151.52 L897.28,154.63" fill="none" stroke="#000" stroke-width="1.75" stroke-linecap="round"/>
<path d="M894.29,148.32 L915.31,157.68 M912.57,156.46 L911.71,161.33" fill="none" stroke="#000" stroke-width="1.75" stroke-linecap="round"/>
<circle cx="922.08" cy="153.0" r="3.5" fill="none" stroke="#000" stroke-width="1.85"/>
<circle cx="939.36" cy="153.0" r="3.5" fill="none" stroke="#000" stroke-width="1.85"/>
<circle cx="956.64" cy="153.0" r="3.5" fill="none" stroke="#000" stroke-width="1.85"/>
<circle cx="973.92" cy="153.0" r="3.5" fill="none" stroke="#000" stroke-width="1.85"/>
<circle cx="991.20" cy="153.0" r="3.5" fill="none" stroke="#000" stroke-width="1.85"/>
<path d="M997.40,149.93 L1019.56,156.07 M1016.67,155.27 L1016.58,158.67" fill="none" stroke="#000" stroke-width="1.75" stroke-linecap="round"/>
<path d="M1024.16,141.61 L1027.36,164.39 M1026.94,161.42 L1022.36,163.27" fill="none" stroke="#000" stroke-width="1.75" stroke-linecap="round"/>
<path d="M1047.35,142.34 L1038.73,163.66 M1039.86,160.88 L1034.96,160.20" fill="none" stroke="#000" stroke-width="1.75" stroke-linecap="round"/>
<path d="M1067.56,144.06 L1053.08,161.94 M1054.97,159.61 L1050.49,157.52" fill="none" stroke="#000" stroke-width="1.75" stroke-linecap="round"/>
<path d="M1083.35,143.04 L1071.85,162.96 M1073.35,160.36 L1068.59,159.00" fill="none" stroke="#000" stroke-width="1.75" stroke-linecap="round"/>
<path d="M1100.63,143.04 L1089.13,162.96 M1090.63,160.36 L1085.87,159.00" fill="none" stroke="#000" stroke-width="1.75" stroke-linecap="round"/>
<path d="M127.5,97.5 H1094.5 V359.5 H127.5 Z" fill="none" stroke="#000" stroke-width="1.1"/>
<line x1="127.5" y1="359.5" x2="127.5" y2="349.5" stroke="#000" stroke-width="1"/>
<line x1="144.5" y1="359.5" x2="144.5" y2="354.5" stroke="#000" stroke-width="1"/>
<line x1="161.5" y1="359.5" x2="161.5" y2="349.5" stroke="#000" stroke-width="1"/>
<line x1="179.5" y1="359.5" x2="179.5" y2="354.5" stroke="#000" stroke-width="1"/>
<line x1="196.5" y1="359.5" x2="196.5" y2="349.5" stroke="#000" stroke-width="1"/>
<line x1="213.5" y1="359.5" x2="213.5" y2="354.5" stroke="#000" stroke-width="1"/>
<line x1="230.5" y1="359.5" x2="230.5" y2="349.5" stroke="#000" stroke-width="1"/>
<line x1="248.5" y1="359.5" x2="248.5" y2="354.5" stroke="#000" stroke-width="1"/>
<line x1="265.5" y1="359.5" x2="265.5" y2="349.5" stroke="#000" stroke-width="1"/>
<line x1="282.5" y1="359.5" x2="282.5" y2="354.5" stroke="#000" stroke-width="1"/>
<line x1="300.5" y1="359.5" x2="300.5" y2="349.5" stroke="#000" stroke-width="1"/>
<line x1="317.5" y1="359.5" x2="317.5" y2="354.5" stroke="#000" stroke-width="1"/>
<line x1="334.5" y1="359.5" x2="334.5" y2="349.5" stroke="#000" stroke-width="1"/>
<line x1="351.5" y1="359.5" x2="351.5" y2="354.5" stroke="#000" stroke-width="1"/>
<line x1="369.5" y1="359.5" x2="369.5" y2="349.5" stroke="#000" stroke-width="1"/>
<line x1="386.5" y1="359.5" x2="386.5" y2="354.5" stroke="#000" stroke-width="1"/>
<line x1="403.5" y1="359.5" x2="403.5" y2="349.5" stroke="#000" stroke-width="1"/>
<line x1="420.5" y1="359.5" x2="420.5" y2="354.5" stroke="#000" stroke-width="1"/>
<line x1="438.5" y1="359.5" x2="438.5" y2="349.5" stroke="#000" stroke-width="1"/>
<line x1="455.5" y1="359.5" x2="455.5" y2="354.5" stroke="#000" stroke-width="1"/>
<line x1="472.5" y1="359.5" x2="472.5" y2="349.5" stroke="#000" stroke-width="1"/>
<line x1="490.5" y1="359.5" x2="490.5" y2="354.5" stroke="#000" stroke-width="1"/>
<line x1="507.5" y1="359.5" x2="507.5" y2="349.5" stroke="#000" stroke-width="1"/>
<line x1="524.5" y1="359.5" x2="524.5" y2="354.5" stroke="#000" stroke-width="1"/>
<line x1="541.5" y1="359.5" x2="541.5" y2="349.5" stroke="#000" stroke-width="1"/>
<line x1="559.5" y1="359.5" x2="559.5" y2="354.5" stroke="#000" stroke-width="1"/>
<line x1="576.5" y1="359.5" x2="576.5" y2="349.5" stroke="#000" stroke-width="1"/>
<line x1="593.5" y1="359.5" x2="593.5" y2="354.5" stroke="#000" stroke-width="1"/>
<line x1="611.5" y1="359.5" x2="611.5" y2="349.5" stroke="#000" stroke-width="1"/>
<line x1="628.5" y1="359.5" x2="628.5" y2="354.5" stroke="#000" stroke-width="1"/>
<line x1="645.5" y1="359.5" x2="645.5" y2="349.5" stroke="#000" stroke-width="1"/>
<line x1="662.5" y1="359.5" x2="662.5" y2="354.5" stroke="#000" stroke-width="1"/>
<line x1="680.5" y1="359.5" x2="680.5" y2="349.5" stroke="#000" stroke-width="1"/>
<line x1="697.5" y1="359.5" x2="697.5" y2="354.5" stroke="#000" stroke-width="1"/>
<line x1="714.5" y1="359.5" x2="714.5" y2="349.5" stroke="#000" stroke-width="1"/>
<line x1="732.5" y1="359.5" x2="732.5" y2="354.5" stroke="#000" stroke-width="1"/>
<line x1="749.5" y1="359.5" x2="749.5" y2="349.5" stroke="#000" stroke-width="1"/>
<line x1="766.5" y1="359.5" x2="766.5" y2="354.5" stroke="#000" stroke-width="1"/>
<line x1="783.5" y1="359.5" x2="783.5" y2="349.5" stroke="#000" stroke-width="1"/>
<line x1="801.5" y1="359.5" x2="801.5" y2="354.5" stroke="#000" stroke-width="1"/>
<line x1="818.5" y1="359.5" x2="818.5" y2="349.5" stroke="#000" stroke-width="1"/>
<line x1="835.5" y1="359.5" x2="835.5" y2="354.5" stroke="#000" stroke-width="1"/>
<line x1="852.5" y1="359.5" x2="852.5" y2="349.5" stroke="#000" stroke-width="1"/>
<line x1="870.5" y1="359.5" x2="870.5" y2="354.5" stroke="#000" stroke-width="1"/>
<line x1="887.5" y1="359.5" x2="887.5" y2="349.5" stroke="#000" stroke-width="1"/>
<line x1="904.5" y1="359.5" x2="904.5" y2="354.5" stroke="#000" stroke-width="1"/>
<line x1="922.5" y1="359.5" x2="922.5" y2="349.5" stroke="#000" stroke-width="1"/>
<line x1="939.5" y1="359.5" x2="939.5" y2="354.5" stroke="#000" stroke-width="1"/>
<line x1="956.5" y1="359.5" x2="956.5" y2="349.5" stroke="#000" stroke-width="1"/>
<line x1="973.5" y1="359.5" x2="973.5" y2="354.5" stroke="#000" stroke-width="1"/>
<line x1="991.5" y1="359.5" x2="991.5" y2="349.5" stroke="#000" stroke-width="1"/>
<line x1="1008.5" y1="359.5" x2="1008.5" y2="354.5" stroke="#000" stroke-width="1"/>
<line x1="1025.5" y1="359.5" x2="1025.5" y2="349.5" stroke="#000" stroke-width="1"/>
<line x1="1043.5" y1="359.5" x2="1043.5" y2="354.5" stroke="#000" stroke-width="1"/>
<line x1="1060.5" y1="359.5" x2="1060.5" y2="349.5" stroke="#000" stroke-width="1"/>
<line x1="1077.5" y1="359.5" x2="1077.5" y2="354.5" stroke="#000" stroke-width="1"/>
<line x1="1094.5" y1="359.5" x2="1094.5" y2="349.5" stroke="#000" stroke-width="1"/>
<text x="161.8" y="377" font-size="17.6" text-anchor="middle">06</text>
<text x="196.3" y="377" font-size="17.6" text-anchor="middle">12</text>
<text x="230.9" y="377" font-size="17.6" text-anchor="middle">18</text>
<text x="265.4" y="377" font-size="17.6" text-anchor="middle">sre</text>
<text x="300.0" y="377" font-size="17.6" text-anchor="middle">06</text>
<text x="334.6" y="377" font-size="17.6" text-anchor="middle">12</text>
<text x="369.1" y="377" font-size="17.6" text-anchor="middle">18</text>
<text x="403.7" y="377" font-size="17.6" text-anchor="middle">čet</text>
<text x="438.2" y="377" font-size="17.6" text-anchor="middle">06</text>
<text x="472.8" y="377" font-size="17.6" text-anchor="middle">12</text>
<text x="507.4" y="377" font-size="17.6" text-anchor="middle">18</text>
<text x="541.9" y="377" font-size="17.6" text-anchor="middle">pet</text>
<text x="576.5" y="377" font-size="17.6" text-anchor="middle">06</text>
<text x="611.0" y="377" font-size="17.6" text-anchor="middle">12</text>
<text x="645.6" y="377" font-size="17.6" text-anchor="middle">18</text>
<text x="680.2" y="377" font-size="17.6" text-anchor="middle">sob</text>
<text x="714.7" y="377" font-size="17.6" text-anchor="middle">06</text>
<text x="749.3" y="377" font-size="17.6" text-anchor="middle">12</text>
<text x="783.8" y="377" font-size="17.6" text-anchor="middle">18</text>
<text x="818.4" y="377" font-size="17.6" text-anchor="middle">ned</text>
<text x="853.0" y="377" font-size="17.6" text-anchor="middle">06</text>
<text x="887.5" y="377" font-size="17.6" text-anchor="middle">12</text>
<text x="922.1" y="377" font-size="17.6" text-anchor="middle">18</text>
<text x="956.6" y="377" font-size="17.6" text-anchor="middle">pon</text>
<text x="991.2" y="377" font-size="17.6" text-anchor="middle">06</text>
<text x="1025.8" y="377" font-size="17.6" text-anchor="middle">12</text>
<text x="1060.3" y="377" font-size="17.6" text-anchor="middle">18</text>
<text x="123.6" y="365.7" font-size="18" text-anchor="end">0</text>
<text x="123.6" y="328.3" font-size="18" text-anchor="end">1</text>
<text x="123.6" y="290.8" font-size="18" text-anchor="end">2</text>
<text x="123.6" y="253.4" font-size="18" text-anchor="end">3</text>
<text x="123.6" y="216.0" font-size="18" text-anchor="end">4</text>
<text x="123.6" y="178.5" font-size="18" text-anchor="end">5</text>
<text x="45.2" y="365.8" font-size="18" fill="#ff0000">0</text>
<text x="45.2" y="328.4" font-size="18" fill="#ff0000">4</text>
<text x="45.2" y="290.9" font-size="18" fill="#ff0000">9</text>
<text x="45.2" y="253.5" font-size="18" fill="#ff0000">13</text>
<text x="45.2" y="216.1" font-size="18" fill="#ff0000">18</text>
<text x="45.2" y="178.7" font-size="18" fill="#ff0000">22</text>
<text x="1097.6" y="365.8" font-size="18">0</text>
<text x="1097.6" y="328.4" font-size="18">1.5</text>
<text x="1097.6" y="290.9" font-size="18">3.5</text>
<text x="1097.6" y="253.5" font-size="18">6.0</text>
<text x="1097.6" y="216.1" font-size="18">9.0</text>
<text x="1097.6" y="178.7" font-size="18">14</text>
<text transform="translate(100,263.5) rotate(-90)" font-size="19" text-anchor="middle">Padavine (mm/h)</text>
<text transform="translate(35.5,267) rotate(-90)" font-size="19" text-anchor="middle" fill="#ff0000">Temperatura (°C)</text>
<text transform="translate(1144.6,256) rotate(-90)" font-size="19" text-anchor="middle">Višina oblakov (km)</text>
<text x="196.3" y="68.6" font-size="18" text-anchor="middle" fill="#000">torek</text>
<text x="196.3" y="90" font-size="18" text-anchor="middle" fill="#000">14.10</text>
<text x="334.6" y="68.6" font-size="18" text-anchor="middle" fill="#000">sreda</text>
<text x="334.6" y="90" font-size="18" text-anchor="middle" fill="#000">15.10</text>
<text x="472.8" y="68.6" font-size="18" text-anchor="middle" fill="#000">četrtek</text>
<text x="472.8" y="90" font-size="18" text-anchor="middle" fill="#000">16.10</text>
<text x="611.0" y="68.6" font-size="18" text-anchor="middle" fill="#000">petek</text>
<text x="611.0" y="90" font-size="18" text-anchor="middle" fill="#000">17.10</text>
<text x="749.3" y="68.6" font-size="18" text-anchor="middle" fill="#cc0000">sobota</text>
<text x="749.3" y="90" font-size="18" text-anchor="middle" fill="#cc0000">18.10</text>
<text x="887.5" y="68.6" font-size="18" text-anchor="middle" fill="#cc0000">nedelja</text>
<text x="887.5" y="90" font-size="18" text-anchor="middle" fill="#cc0000">19.10</text>
<text x="1025.8" y="68.6" font-size="18" text-anchor="middle" fill="#000">ponedeljek</text>
<text x="1025.8" y="90" font-size="18" text-anchor="middle" fill="#000">20.10</text>
<rect x="127" y="390" width="32" height="11" fill="#0050ff"/>
<rect x="165" y="386.2" width="105" height="19.5" fill="#fff"/>
<text x="168.5" y="402" font-size="19.5" class="ls">Dež</text>
<rect x="277.8" y="390.2" width="32.2" height="10.8" fill="#10d8c8"/>
<rect x="310.3" y="386.2" width="109.7" height="19.5" fill="#fff"/>
<text x="318.2" y="402.1" font-size="19.5" class="ls">Možnost ploh</text>
<text x="499.5" y="401.7" font-size="16" class="hd">© vreme.us &amp; vreme.pro</text>
<rect x="759" y="386" width="181" height="19.7" fill="#fff"/>
<text x="759" y="402.2" font-size="19.5" class="ls">Gostota oblakov (%)</text>
<rect x="949.20" y="385" width="29.1" height="13.3" fill="#d3d3d3"/>
<rect x="978.16" y="385" width="29.1" height="13.3" fill="#b0b0b0"/>
<rect x="1007.12" y="385" width="29.1" height="13.3" fill="#8f8f8f"/>
<rect x="1036.08" y="385" width="29.1" height="13.3" fill="#6f6f6f"/>
<rect x="1065.04" y="385" width="29.1" height="13.3" fill="#555555"/>
<rect x="949.2" y="385" width="144.8" height="13.3" fill="none" stroke="#333" stroke-width="1"/>
<text x="949.2" y="414" font-size="16" text-anchor="middle">10</text>
<text x="978.2" y="414" font-size="16" text-anchor="middle">25</text>
<text x="1007.1" y="414" font-size="16" text-anchor="middle">50</text>
<text x="1036.1" y="414" font-size="16" text-anchor="middle">75</text>
<text x="1065.0" y="414" font-size="16" text-anchor="middle">90</text>
<text x="1094.0" y="414" font-size="16" text-anchor="middle">100</text>
<text class="hd" x="10" y="21.7" font-size="16">(kraj lahko izberete v meniju)</text>
<text class="hd" x="399" y="37" font-size="24">Zagreb 7 dni</text>
<text class="hd" x="1142.7" y="21.5" font-size="16" text-anchor="end">Zadnja posodobitev: 14.10.2025 - 00:08</text>
</svg>
</body></html>
